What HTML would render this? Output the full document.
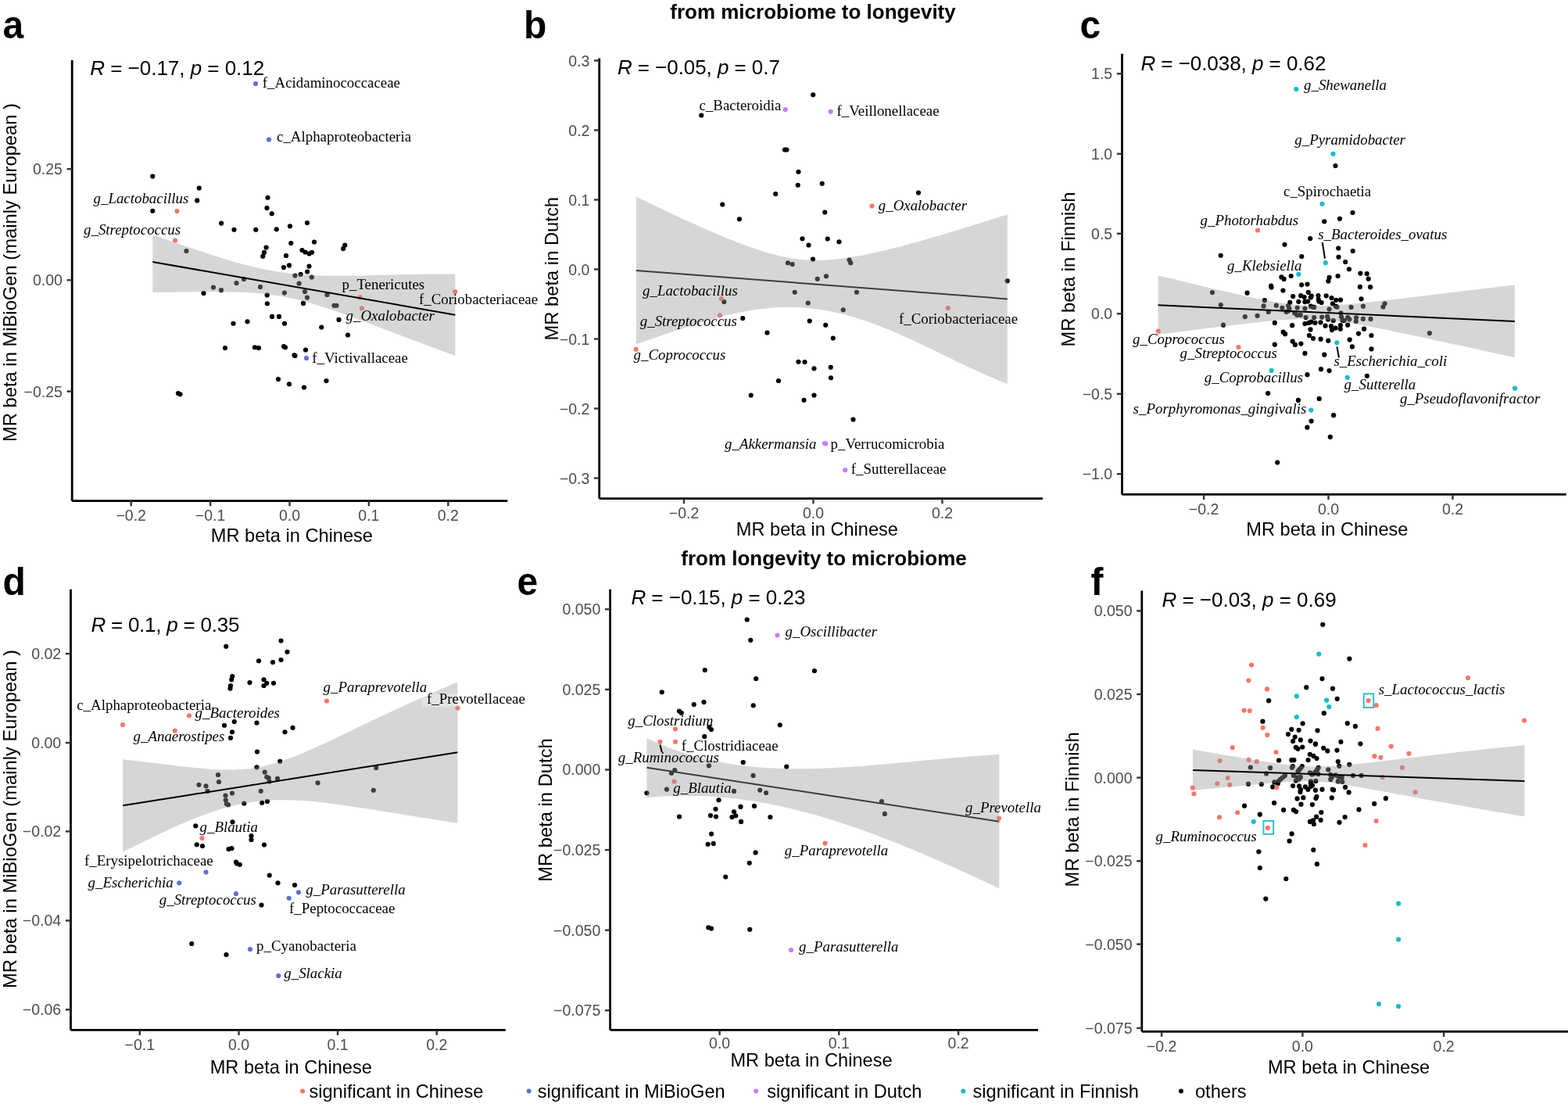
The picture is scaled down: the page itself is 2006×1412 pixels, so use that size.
<!DOCTYPE html>
<html><head><meta charset="utf-8"><title>MR beta scatter plots</title>
<style>
html,body{margin:0;padding:0;background:#fff;}
body{width:2006px;height:1412px;overflow:hidden;}
svg{display:block;}
.tk{font-family:"Liberation Sans",Arial,sans-serif;font-size:19.5px;fill:#4D4D4D;}
.at{font-family:"Liberation Sans",Arial,sans-serif;font-size:23.6px;fill:#000;}
.rt{font-family:"Liberation Sans",Arial,sans-serif;font-size:26px;fill:#000;}
.lb{font-family:"Liberation Serif","Times New Roman",serif;font-size:18.9px;fill:#000;}
.lbi{font-family:"Liberation Serif","Times New Roman",serif;font-size:18.9px;font-style:italic;fill:#000;}
.pl{font-family:"Liberation Sans",Arial,sans-serif;font-size:49.5px;font-weight:bold;fill:#000;}
.tt{font-family:"Liberation Sans",Arial,sans-serif;font-size:26px;font-weight:bold;fill:#000;}
.lg{font-family:"Liberation Sans",Arial,sans-serif;font-size:23.6px;fill:#000;}
</style></head>
<body><svg width="2006" height="1412" viewBox="0 0 2006 1412">
<rect width="2006" height="1412" fill="#fff"/>
<g id="panel-a">
<circle cx="195.25" cy="225.5" r="3.1" fill="#000000"/>
<circle cx="254.75" cy="240.5" r="3.1" fill="#000000"/>
<circle cx="252.25" cy="256.4" r="3.1" fill="#000000"/>
<circle cx="195.25" cy="269.75" r="3.1" fill="#000000"/>
<circle cx="342.5" cy="252.75" r="3.1" fill="#000000"/>
<circle cx="341.5" cy="266.1" r="3.1" fill="#000000"/>
<circle cx="347.75" cy="273.25" r="3.1" fill="#000000"/>
<circle cx="283.1" cy="285.6" r="3.1" fill="#000000"/>
<circle cx="299.5" cy="293.75" r="3.1" fill="#000000"/>
<circle cx="327.25" cy="293.75" r="3.1" fill="#000000"/>
<circle cx="353.75" cy="293.25" r="3.1" fill="#000000"/>
<circle cx="371" cy="289.25" r="3.1" fill="#000000"/>
<circle cx="393" cy="285.1" r="3.1" fill="#000000"/>
<circle cx="340.6" cy="316.5" r="3.1" fill="#000000"/>
<circle cx="338" cy="322.9" r="3.1" fill="#000000"/>
<circle cx="336.25" cy="327.75" r="3.1" fill="#000000"/>
<circle cx="372.25" cy="311" r="3.1" fill="#000000"/>
<circle cx="402" cy="309.5" r="3.1" fill="#000000"/>
<circle cx="441.25" cy="313.6" r="3.1" fill="#000000"/>
<circle cx="439.1" cy="318.1" r="3.1" fill="#000000"/>
<circle cx="366" cy="327" r="3.1" fill="#000000"/>
<circle cx="386.5" cy="320" r="3.1" fill="#000000"/>
<circle cx="390.5" cy="322.5" r="3.1" fill="#000000"/>
<circle cx="395.6" cy="324.5" r="3.1" fill="#000000"/>
<circle cx="399" cy="322.75" r="3.1" fill="#000000"/>
<circle cx="363" cy="342.1" r="3.1" fill="#000000"/>
<circle cx="370" cy="339.4" r="3.1" fill="#000000"/>
<circle cx="395.5" cy="340.6" r="3.1" fill="#000000"/>
<circle cx="393.1" cy="347.5" r="3.1" fill="#000000"/>
<circle cx="260.5" cy="375" r="3.1" fill="#000000"/>
<circle cx="341.75" cy="377.4" r="3.1" fill="#000000"/>
<circle cx="341.9" cy="388.25" r="3.1" fill="#000000"/>
<circle cx="388" cy="387.9" r="3.1" fill="#000000"/>
<circle cx="348" cy="404.9" r="3.1" fill="#000000"/>
<circle cx="357" cy="404.9" r="3.1" fill="#000000"/>
<circle cx="433.5" cy="408.9" r="3.1" fill="#000000"/>
<circle cx="298.5" cy="413.75" r="3.1" fill="#000000"/>
<circle cx="316.5" cy="411.25" r="3.1" fill="#000000"/>
<circle cx="364" cy="413.75" r="3.1" fill="#000000"/>
<circle cx="411.25" cy="418.5" r="3.1" fill="#000000"/>
<circle cx="445" cy="428.5" r="3.1" fill="#000000"/>
<circle cx="288" cy="445" r="3.1" fill="#000000"/>
<circle cx="326" cy="444.25" r="3.1" fill="#000000"/>
<circle cx="331" cy="445" r="3.1" fill="#000000"/>
<circle cx="363" cy="443" r="3.1" fill="#000000"/>
<circle cx="365" cy="444.25" r="3.1" fill="#000000"/>
<circle cx="391" cy="447.5" r="3.1" fill="#000000"/>
<circle cx="376.5" cy="454.25" r="3.1" fill="#000000"/>
<circle cx="377.5" cy="455" r="3.1" fill="#000000"/>
<circle cx="356" cy="485" r="3.1" fill="#000000"/>
<circle cx="370" cy="491.25" r="3.1" fill="#000000"/>
<circle cx="389" cy="495.5" r="3.1" fill="#000000"/>
<circle cx="417.5" cy="487" r="3.1" fill="#000000"/>
<circle cx="228" cy="503" r="3.1" fill="#000000"/>
<circle cx="230.5" cy="504.25" r="3.1" fill="#000000"/>
<circle cx="238.4" cy="321" r="3.1" fill="#000000"/>
<circle cx="377.5" cy="352.5" r="3.1" fill="#000000"/>
<circle cx="384.6" cy="350.9" r="3.1" fill="#000000"/>
<circle cx="398.75" cy="354.5" r="3.1" fill="#000000"/>
<circle cx="312" cy="357" r="3.1" fill="#000000"/>
<circle cx="302.5" cy="362" r="3.1" fill="#000000"/>
<circle cx="273" cy="367.5" r="3.1" fill="#000000"/>
<circle cx="283" cy="371.1" r="3.1" fill="#000000"/>
<circle cx="333" cy="367" r="3.1" fill="#000000"/>
<circle cx="382.6" cy="362.5" r="3.1" fill="#000000"/>
<circle cx="390" cy="373" r="3.1" fill="#000000"/>
<circle cx="363.9" cy="374.5" r="3.1" fill="#000000"/>
<circle cx="393" cy="380.6" r="3.1" fill="#000000"/>
<circle cx="418.5" cy="377" r="3.1" fill="#000000"/>
<circle cx="427.5" cy="390.75" r="3.1" fill="#000000"/>
<circle cx="430.5" cy="390.75" r="3.1" fill="#000000"/>
<circle cx="226.5" cy="270" r="3.1" fill="#F8766D"/>
<circle cx="224.2" cy="307.6" r="3.1" fill="#F8766D"/>
<circle cx="460.6" cy="380.3" r="3.1" fill="#F8766D"/>
<circle cx="582.25" cy="373" r="3.1" fill="#F8766D"/>
<circle cx="462.9" cy="394.25" r="3.1" fill="#F8766D"/>
<circle cx="327" cy="107" r="3.1" fill="#5E71D1"/>
<circle cx="344" cy="178.5" r="3.1" fill="#5E71D1"/>
<circle cx="392" cy="458" r="3.1" fill="#5E71D1"/>
<path d="M195.30,300.38 L199.17,301.69 L203.04,303.02 L206.91,304.34 L210.78,305.67 L214.65,306.99 L218.52,308.32 L222.39,309.65 L226.26,310.98 L230.13,312.31 L234.01,313.64 L237.88,314.97 L241.75,316.29 L245.62,317.60 L249.49,318.92 L253.36,320.22 L257.23,321.52 L261.10,322.81 L264.97,324.09 L268.84,325.35 L272.71,326.61 L276.58,327.85 L280.45,329.07 L284.32,330.28 L288.19,331.47 L292.06,332.64 L295.93,333.79 L299.80,334.91 L303.67,336.01 L307.54,337.08 L311.42,338.13 L315.29,339.14 L319.16,340.12 L323.03,341.07 L326.90,341.99 L330.77,342.87 L334.64,343.71 L338.51,344.51 L342.38,345.28 L346.25,346.01 L350.12,346.69 L353.99,347.34 L357.86,347.94 L361.73,348.51 L365.60,349.03 L369.47,349.52 L373.34,349.96 L377.21,350.37 L381.08,350.74 L384.95,351.07 L388.83,351.37 L392.70,351.63 L396.57,351.87 L400.44,352.07 L404.31,352.24 L408.18,352.38 L412.05,352.50 L415.92,352.60 L419.79,352.67 L423.66,352.72 L427.53,352.75 L431.40,352.76 L435.27,352.76 L439.14,352.74 L443.01,352.71 L446.88,352.67 L450.75,352.62 L454.62,352.55 L458.49,352.48 L462.36,352.40 L466.24,352.32 L470.11,352.23 L473.98,352.14 L477.85,352.04 L481.72,351.94 L485.59,351.84 L489.46,351.74 L493.33,351.64 L497.20,351.54 L501.07,351.44 L504.94,351.35 L508.81,351.26 L512.68,351.17 L516.55,351.08 L520.42,351.00 L524.29,350.92 L528.16,350.85 L532.03,350.79 L535.90,350.73 L539.77,350.67 L543.64,350.63 L547.52,350.59 L551.39,350.56 L555.26,350.53 L559.13,350.52 L563.00,350.51 L566.87,350.51 L570.74,350.52 L574.61,350.54 L578.48,350.57 L582.35,350.61 L582.35,454.99 L578.48,453.58 L574.61,452.18 L570.74,450.76 L566.87,449.35 L563.00,447.92 L559.13,446.49 L555.26,445.06 L551.39,443.62 L547.52,442.18 L543.64,440.73 L539.77,439.28 L535.90,437.83 L532.03,436.37 L528.16,434.91 L524.29,433.45 L520.42,431.98 L516.55,430.51 L512.68,429.04 L508.81,427.57 L504.94,426.09 L501.07,424.62 L497.20,423.14 L493.33,421.66 L489.46,420.19 L485.59,418.71 L481.72,417.24 L477.85,415.77 L473.98,414.31 L470.11,412.84 L466.24,411.38 L462.36,409.93 L458.49,408.49 L454.62,407.05 L450.75,405.62 L446.88,404.20 L443.01,402.80 L439.14,401.40 L435.27,400.02 L431.40,398.66 L427.53,397.31 L423.66,395.99 L419.79,394.69 L415.92,393.41 L412.05,392.15 L408.18,390.93 L404.31,389.73 L400.44,388.57 L396.57,387.45 L392.70,386.36 L388.83,385.31 L384.95,384.31 L381.08,383.34 L377.21,382.43 L373.34,381.56 L369.47,380.74 L365.60,379.97 L361.73,379.25 L357.86,378.58 L353.99,377.95 L350.12,377.38 L346.25,376.85 L342.38,376.37 L338.51,375.94 L334.64,375.54 L330.77,375.19 L326.90,374.87 L323.03,374.60 L319.16,374.35 L315.29,374.14 L311.42,373.95 L307.54,373.79 L303.67,373.66 L299.80,373.55 L295.93,373.45 L292.06,373.38 L288.19,373.32 L284.32,373.28 L280.45,373.25 L276.58,373.24 L272.71,373.23 L268.84,373.23 L264.97,373.24 L261.10,373.26 L257.23,373.29 L253.36,373.32 L249.49,373.35 L245.62,373.38 L241.75,373.42 L237.88,373.46 L234.01,373.51 L230.13,373.55 L226.26,373.59 L222.39,373.64 L218.52,373.68 L214.65,373.72 L210.78,373.76 L206.91,373.79 L203.04,373.83 L199.17,373.86 L195.30,373.89 Z" fill="#999999" fill-opacity="0.4"/>
<line x1="195.3" y1="335.0" x2="582.35" y2="402.7" stroke="#000" stroke-width="2"/>
<line x1="92.2" y1="77" x2="92.2" y2="640.7" stroke="#000" stroke-width="2.8"/>
<line x1="92.2" y1="640.7" x2="649.3" y2="640.7" stroke="#000" stroke-width="2.8"/>
<line x1="85.60000000000001" y1="216.1" x2="92.2" y2="216.1" stroke="#333333" stroke-width="2.4"/>
<text x="79.9" y="223.1" class="tk" text-anchor="end">0.25</text>
<line x1="85.60000000000001" y1="358.3" x2="92.2" y2="358.3" stroke="#333333" stroke-width="2.4"/>
<text x="79.9" y="365.3" class="tk" text-anchor="end">0.00</text>
<line x1="85.60000000000001" y1="500.6" x2="92.2" y2="500.6" stroke="#333333" stroke-width="2.4"/>
<text x="79.9" y="507.6" class="tk" text-anchor="end">−0.25</text>
<line x1="167.7" y1="640.7" x2="167.7" y2="647.3000000000001" stroke="#333333" stroke-width="2.4"/>
<text x="167.7" y="665.5" class="tk" text-anchor="middle">−0.2</text>
<line x1="269.1" y1="640.7" x2="269.1" y2="647.3000000000001" stroke="#333333" stroke-width="2.4"/>
<text x="269.1" y="665.5" class="tk" text-anchor="middle">−0.1</text>
<line x1="370.5" y1="640.7" x2="370.5" y2="647.3000000000001" stroke="#333333" stroke-width="2.4"/>
<text x="370.5" y="665.5" class="tk" text-anchor="middle">0.0</text>
<line x1="471.9" y1="640.7" x2="471.9" y2="647.3000000000001" stroke="#333333" stroke-width="2.4"/>
<text x="471.9" y="665.5" class="tk" text-anchor="middle">0.1</text>
<line x1="573.3" y1="640.7" x2="573.3" y2="647.3000000000001" stroke="#333333" stroke-width="2.4"/>
<text x="573.3" y="665.5" class="tk" text-anchor="middle">0.2</text>
<text x="373.4" y="693" class="at" text-anchor="middle">MR beta in Chinese</text>
<text transform="translate(20.7,348.5) rotate(-90)" x="0" y="0" class="at" style="font-size:23.75px" text-anchor="middle">MR beta in MiBioGen (mainly European )</text>
<text x="115.30000000000001" y="95.8" class="rt" textLength="222.90" lengthAdjust="spacing"><tspan font-style="italic">R</tspan> = −0.17, <tspan font-style="italic">p</tspan> = 0.12</text>
<text x="335.8" y="111.5" class="lb">f_Acidaminococcaceae</text>
<text x="354" y="181" class="lb">c_Alphaproteobacteria</text>
<text x="119.5" y="260" class="lbi">g_Lactobacillus</text>
<text x="107" y="300" class="lbi">g_Streptococcus</text>
<text x="437.5" y="370" class="lb">p_Tenericutes</text>
<text x="536" y="388.75" class="lb">f_Coriobacteriaceae</text>
<text x="442.5" y="410" class="lbi">g_Oxalobacter</text>
<text x="399.25" y="463.75" class="lb">f_Victivallaceae</text>
</g>
<g id="panel-b">
<circle cx="1040.25" cy="121.25" r="3.1" fill="#000000"/>
<circle cx="897.25" cy="147.5" r="3.1" fill="#000000"/>
<circle cx="1004" cy="191.5" r="3.1" fill="#000000"/>
<circle cx="1006.5" cy="191.5" r="3.1" fill="#000000"/>
<circle cx="1021.5" cy="219.75" r="3.1" fill="#000000"/>
<circle cx="1020.75" cy="236.75" r="3.1" fill="#000000"/>
<circle cx="1051.75" cy="234.75" r="3.1" fill="#000000"/>
<circle cx="992.25" cy="248" r="3.1" fill="#000000"/>
<circle cx="1175" cy="246.5" r="3.1" fill="#000000"/>
<circle cx="924.25" cy="261.5" r="3.1" fill="#000000"/>
<circle cx="946" cy="280.25" r="3.1" fill="#000000"/>
<circle cx="1055.25" cy="271.5" r="3.1" fill="#000000"/>
<circle cx="1026.5" cy="305.25" r="3.1" fill="#000000"/>
<circle cx="1034.5" cy="313.5" r="3.1" fill="#000000"/>
<circle cx="1058.75" cy="305.5" r="3.1" fill="#000000"/>
<circle cx="1073.5" cy="309.25" r="3.1" fill="#000000"/>
<circle cx="1040" cy="331.5" r="3.1" fill="#000000"/>
<circle cx="1008" cy="336.25" r="3.1" fill="#000000"/>
<circle cx="1013.75" cy="338" r="3.1" fill="#000000"/>
<circle cx="1086.5" cy="332.5" r="3.1" fill="#000000"/>
<circle cx="1088.25" cy="336.25" r="3.1" fill="#000000"/>
<circle cx="1045.75" cy="356.75" r="3.1" fill="#000000"/>
<circle cx="1057" cy="353.25" r="3.1" fill="#000000"/>
<circle cx="1288.75" cy="359.25" r="3.1" fill="#000000"/>
<circle cx="1016.75" cy="373.75" r="3.1" fill="#000000"/>
<circle cx="1096" cy="373.75" r="3.1" fill="#000000"/>
<circle cx="926.25" cy="386" r="3.1" fill="#000000"/>
<circle cx="1033.75" cy="387.5" r="3.1" fill="#000000"/>
<circle cx="1078.75" cy="396.25" r="3.1" fill="#000000"/>
<circle cx="950.25" cy="407" r="3.1" fill="#000000"/>
<circle cx="1035.75" cy="410.5" r="3.1" fill="#000000"/>
<circle cx="1056.25" cy="415.75" r="3.1" fill="#000000"/>
<circle cx="981.5" cy="425.5" r="3.1" fill="#000000"/>
<circle cx="1065.75" cy="432.5" r="3.1" fill="#000000"/>
<circle cx="1021.5" cy="462.75" r="3.1" fill="#000000"/>
<circle cx="1029.5" cy="463" r="3.1" fill="#000000"/>
<circle cx="1041.5" cy="471.25" r="3.1" fill="#000000"/>
<circle cx="1062.75" cy="469.75" r="3.1" fill="#000000"/>
<circle cx="1063" cy="483.25" r="3.1" fill="#000000"/>
<circle cx="996" cy="487" r="3.1" fill="#000000"/>
<circle cx="960.75" cy="505.5" r="3.1" fill="#000000"/>
<circle cx="1041.5" cy="505.5" r="3.1" fill="#000000"/>
<circle cx="1028.5" cy="511.75" r="3.1" fill="#000000"/>
<circle cx="1091.5" cy="536.5" r="3.1" fill="#000000"/>
<circle cx="1115.5" cy="263.5" r="3.1" fill="#F8766D"/>
<circle cx="922.75" cy="382" r="3.1" fill="#F8766D"/>
<circle cx="1212.75" cy="394" r="3.1" fill="#F8766D"/>
<circle cx="921" cy="403.25" r="3.1" fill="#F8766D"/>
<circle cx="813.75" cy="446.75" r="3.1" fill="#F8766D"/>
<circle cx="1004.75" cy="140" r="3.1" fill="#C77CFF"/>
<circle cx="1062.75" cy="142.75" r="3.1" fill="#C77CFF"/>
<circle cx="1055" cy="567" r="3.1" fill="#C77CFF"/>
<circle cx="1056.25" cy="567.5" r="3.1" fill="#C77CFF"/>
<circle cx="1081.25" cy="601.25" r="3.1" fill="#C77CFF"/>
<line x1="813.9" y1="345.9" x2="1288.8" y2="382.4" stroke="#000" stroke-width="2"/>
<path d="M813.90,251.60 L818.65,253.91 L823.40,256.22 L828.15,258.51 L832.90,260.80 L837.64,263.07 L842.39,265.34 L847.14,267.59 L851.89,269.84 L856.64,272.07 L861.39,274.30 L866.14,276.51 L870.89,278.71 L875.64,280.89 L880.39,283.06 L885.13,285.22 L889.88,287.35 L894.63,289.48 L899.38,291.58 L904.13,293.66 L908.88,295.73 L913.63,297.77 L918.38,299.79 L923.13,301.78 L927.88,303.74 L932.62,305.67 L937.37,307.57 L942.12,309.44 L946.87,311.26 L951.62,313.05 L956.37,314.79 L961.12,316.48 L965.87,318.11 L970.62,319.69 L975.37,321.21 L980.12,322.65 L984.86,324.02 L989.61,325.32 L994.36,326.52 L999.11,327.64 L1003.86,328.66 L1008.61,329.57 L1013.36,330.38 L1018.11,331.08 L1022.86,331.67 L1027.61,332.14 L1032.35,332.50 L1037.10,332.74 L1041.85,332.88 L1046.60,332.90 L1051.35,332.81 L1056.10,332.62 L1060.85,332.34 L1065.60,331.97 L1070.35,331.51 L1075.10,330.97 L1079.84,330.36 L1084.59,329.68 L1089.34,328.94 L1094.09,328.14 L1098.84,327.29 L1103.59,326.38 L1108.34,325.44 L1113.09,324.45 L1117.84,323.42 L1122.59,322.36 L1127.33,321.26 L1132.08,320.14 L1136.83,318.99 L1141.58,317.81 L1146.33,316.61 L1151.08,315.38 L1155.83,314.14 L1160.58,312.88 L1165.33,311.59 L1170.07,310.29 L1174.82,308.98 L1179.57,307.65 L1184.32,306.30 L1189.07,304.95 L1193.82,303.58 L1198.57,302.19 L1203.32,300.80 L1208.07,299.39 L1212.82,297.98 L1217.57,296.55 L1222.31,295.12 L1227.06,293.67 L1231.81,292.22 L1236.56,290.76 L1241.31,289.29 L1246.06,287.81 L1250.81,286.33 L1255.56,284.83 L1260.31,283.33 L1265.05,281.83 L1269.80,280.31 L1274.55,278.79 L1279.30,277.27 L1284.05,275.74 L1288.80,274.20 L1288.80,491.00 L1284.05,489.13 L1279.30,487.22 L1274.55,485.25 L1269.80,483.25 L1265.05,481.20 L1260.31,479.11 L1255.56,476.99 L1250.81,474.83 L1246.06,472.65 L1241.31,470.44 L1236.56,468.20 L1231.81,465.95 L1227.06,463.68 L1222.31,461.39 L1217.57,459.09 L1212.82,456.79 L1208.07,454.48 L1203.32,452.18 L1198.57,449.87 L1193.82,447.57 L1189.07,445.28 L1184.32,443.00 L1179.57,440.74 L1174.82,438.50 L1170.07,436.28 L1165.33,434.08 L1160.58,431.91 L1155.83,429.78 L1151.08,427.68 L1146.33,425.61 L1141.58,423.59 L1136.83,421.61 L1132.08,419.68 L1127.33,417.79 L1122.59,415.96 L1117.84,414.19 L1113.09,412.47 L1108.34,410.81 L1103.59,409.21 L1098.84,407.68 L1094.09,406.22 L1089.34,404.82 L1084.59,403.49 L1079.84,402.24 L1075.10,401.06 L1070.35,399.96 L1065.60,398.93 L1060.85,397.98 L1056.10,397.12 L1051.35,396.33 L1046.60,395.62 L1041.85,395.00 L1037.10,394.46 L1032.35,394.00 L1027.61,393.62 L1022.86,393.33 L1018.11,393.12 L1013.36,393.00 L1008.61,392.95 L1003.86,392.99 L999.11,393.11 L994.36,393.31 L989.61,393.59 L984.86,393.95 L980.12,394.38 L975.37,394.89 L970.62,395.48 L965.87,396.13 L961.12,396.86 L956.37,397.65 L951.62,398.51 L946.87,399.44 L942.12,400.43 L937.37,401.47 L932.62,402.57 L927.88,403.73 L923.13,404.94 L918.38,406.20 L913.63,407.50 L908.88,408.84 L904.13,410.23 L899.38,411.65 L894.63,413.11 L889.88,414.60 L885.13,416.12 L880.39,417.66 L875.64,419.22 L870.89,420.80 L866.14,422.39 L861.39,424.00 L856.64,425.61 L851.89,427.23 L847.14,428.86 L842.39,430.48 L837.64,432.09 L832.90,433.70 L828.15,435.30 L823.40,436.88 L818.65,438.44 L813.90,439.99 Z" fill="#999999" fill-opacity="0.4"/>
<line x1="766.7" y1="74.5" x2="766.7" y2="637.6" stroke="#000" stroke-width="2.8"/>
<line x1="766.7" y1="637.6" x2="1334" y2="637.6" stroke="#000" stroke-width="2.8"/>
<line x1="760.1" y1="77.5" x2="766.7" y2="77.5" stroke="#333333" stroke-width="2.4"/>
<text x="754.4000000000001" y="84.5" class="tk" text-anchor="end">0.3</text>
<line x1="760.1" y1="166.5" x2="766.7" y2="166.5" stroke="#333333" stroke-width="2.4"/>
<text x="754.4000000000001" y="173.5" class="tk" text-anchor="end">0.2</text>
<line x1="760.1" y1="255.5" x2="766.7" y2="255.5" stroke="#333333" stroke-width="2.4"/>
<text x="754.4000000000001" y="262.5" class="tk" text-anchor="end">0.1</text>
<line x1="760.1" y1="344.5" x2="766.7" y2="344.5" stroke="#333333" stroke-width="2.4"/>
<text x="754.4000000000001" y="351.5" class="tk" text-anchor="end">0.0</text>
<line x1="760.1" y1="433.5" x2="766.7" y2="433.5" stroke="#333333" stroke-width="2.4"/>
<text x="754.4000000000001" y="440.5" class="tk" text-anchor="end">−0.1</text>
<line x1="760.1" y1="522.5" x2="766.7" y2="522.5" stroke="#333333" stroke-width="2.4"/>
<text x="754.4000000000001" y="529.5" class="tk" text-anchor="end">−0.2</text>
<line x1="760.1" y1="611.5" x2="766.7" y2="611.5" stroke="#333333" stroke-width="2.4"/>
<text x="754.4000000000001" y="618.5" class="tk" text-anchor="end">−0.3</text>
<line x1="875" y1="637.6" x2="875" y2="644.2" stroke="#333333" stroke-width="2.4"/>
<text x="875" y="663.2" class="tk" text-anchor="middle">−0.2</text>
<line x1="1040.5" y1="637.6" x2="1040.5" y2="644.2" stroke="#333333" stroke-width="2.4"/>
<text x="1040.5" y="663.2" class="tk" text-anchor="middle">0.0</text>
<line x1="1205.5" y1="637.6" x2="1205.5" y2="644.2" stroke="#333333" stroke-width="2.4"/>
<text x="1205.5" y="663.2" class="tk" text-anchor="middle">0.2</text>
<text x="1045.4" y="684.5" class="at" text-anchor="middle">MR beta in Chinese</text>
<text transform="translate(713.5,343.75) rotate(-90)" x="0" y="0" class="at" style="font-size:23.75px" text-anchor="middle">MR beta in Dutch</text>
<text x="789.9" y="94.5" class="rt" textLength="208.00" lengthAdjust="spacing"><tspan font-style="italic">R</tspan> = −0.05, <tspan font-style="italic">p</tspan> = 0.7</text>
<text x="894.5" y="140.75" class="lb">c_Bacteroidia</text>
<text x="1070.5" y="147.5" class="lb">f_Veillonellaceae</text>
<text x="1123.75" y="268.75" class="lbi">g_Oxalobacter</text>
<text x="822" y="378" class="lbi">g_Lactobacillus</text>
<text x="818.75" y="417" class="lbi">g_Streptococcus</text>
<text x="810.5" y="460" class="lbi">g_Coprococcus</text>
<text x="1150" y="413.75" class="lb">f_Coriobacteriaceae</text>
<text x="927" y="573.75" class="lbi">g_Akkermansia</text>
<text x="1062.5" y="573.75" class="lb">p_Verrucomicrobia</text>
<text x="1088.75" y="605.5" class="lb">f_Sutterellaceae</text>
</g>
<g id="panel-c">
<circle cx="1708.5" cy="212" r="3.1" fill="#000000"/>
<circle cx="1730.5" cy="272" r="3.1" fill="#000000"/>
<circle cx="1714" cy="279.75" r="3.1" fill="#000000"/>
<circle cx="1694.25" cy="283.25" r="3.1" fill="#000000"/>
<circle cx="1676.25" cy="305" r="3.1" fill="#000000"/>
<circle cx="1643.5" cy="312.75" r="3.1" fill="#000000"/>
<circle cx="1561.75" cy="326.75" r="3.1" fill="#000000"/>
<circle cx="1665.25" cy="328" r="3.1" fill="#000000"/>
<circle cx="1712.25" cy="317.5" r="3.1" fill="#000000"/>
<circle cx="1730.75" cy="321" r="3.1" fill="#000000"/>
<circle cx="1712.5" cy="328.75" r="3.1" fill="#000000"/>
<circle cx="1721.25" cy="335" r="3.1" fill="#000000"/>
<circle cx="1726" cy="344.25" r="3.1" fill="#000000"/>
<circle cx="1639.4" cy="354.4" r="3.1" fill="#000000"/>
<circle cx="1642.6" cy="356.9" r="3.1" fill="#000000"/>
<circle cx="1651.7" cy="353" r="3.1" fill="#000000"/>
<circle cx="1711.6" cy="353" r="3.1" fill="#000000"/>
<circle cx="1700.6" cy="354.9" r="3.1" fill="#000000"/>
<circle cx="1699.4" cy="359.6" r="3.1" fill="#000000"/>
<circle cx="1740.4" cy="349.6" r="3.1" fill="#000000"/>
<circle cx="1748.7" cy="350.1" r="3.1" fill="#000000"/>
<circle cx="1750.7" cy="356.7" r="3.1" fill="#000000"/>
<circle cx="1739.9" cy="366.9" r="3.1" fill="#000000"/>
<circle cx="1753.1" cy="367.2" r="3.1" fill="#000000"/>
<circle cx="1626.2" cy="365.5" r="3.1" fill="#000000"/>
<circle cx="1626.5" cy="367.4" r="3.1" fill="#000000"/>
<circle cx="1665.1" cy="364.3" r="3.1" fill="#000000"/>
<circle cx="1672.5" cy="363.5" r="3.1" fill="#000000"/>
<circle cx="1641.4" cy="371.5" r="3.1" fill="#000000"/>
<circle cx="1551" cy="374.1" r="3.1" fill="#000000"/>
<circle cx="1595.6" cy="374.7" r="3.1" fill="#000000"/>
<circle cx="1654.2" cy="379.1" r="3.1" fill="#000000"/>
<circle cx="1673.8" cy="373.9" r="3.1" fill="#000000"/>
<circle cx="1677.7" cy="378.5" r="3.1" fill="#000000"/>
<circle cx="1676.9" cy="380.5" r="3.1" fill="#000000"/>
<circle cx="1664.2" cy="378.2" r="3.1" fill="#000000"/>
<circle cx="1668.6" cy="380" r="3.1" fill="#000000"/>
<circle cx="1686.5" cy="378" r="3.1" fill="#000000"/>
<circle cx="1696.7" cy="378.3" r="3.1" fill="#000000"/>
<circle cx="1703.5" cy="381.1" r="3.1" fill="#000000"/>
<circle cx="1709.3" cy="383.8" r="3.1" fill="#000000"/>
<circle cx="1715" cy="383.6" r="3.1" fill="#000000"/>
<circle cx="1661.3" cy="385.8" r="3.1" fill="#000000"/>
<circle cx="1669.4" cy="386.1" r="3.1" fill="#000000"/>
<circle cx="1673.1" cy="385.5" r="3.1" fill="#000000"/>
<circle cx="1686.8" cy="383" r="3.1" fill="#000000"/>
<circle cx="1687.5" cy="385.5" r="3.1" fill="#000000"/>
<circle cx="1690.6" cy="387" r="3.1" fill="#000000"/>
<circle cx="1650.3" cy="386.8" r="3.1" fill="#000000"/>
<circle cx="1741.6" cy="382.3" r="3.1" fill="#000000"/>
<circle cx="1617.9" cy="384.2" r="3.1" fill="#000000"/>
<circle cx="1561.8" cy="390.1" r="3.1" fill="#000000"/>
<circle cx="1616.6" cy="391.4" r="3.1" fill="#000000"/>
<circle cx="1632.8" cy="390.7" r="3.1" fill="#000000"/>
<circle cx="1640.4" cy="393.8" r="3.1" fill="#000000"/>
<circle cx="1648.2" cy="391.1" r="3.1" fill="#000000"/>
<circle cx="1649.5" cy="394.8" r="3.1" fill="#000000"/>
<circle cx="1659.7" cy="393.6" r="3.1" fill="#000000"/>
<circle cx="1669.4" cy="394.6" r="3.1" fill="#000000"/>
<circle cx="1676.9" cy="391.7" r="3.1" fill="#000000"/>
<circle cx="1680" cy="392.9" r="3.1" fill="#000000"/>
<circle cx="1704.9" cy="388.3" r="3.1" fill="#000000"/>
<circle cx="1708.7" cy="391.7" r="3.1" fill="#000000"/>
<circle cx="1710.5" cy="392.7" r="3.1" fill="#000000"/>
<circle cx="1700.6" cy="395.4" r="3.1" fill="#000000"/>
<circle cx="1728.6" cy="392.9" r="3.1" fill="#000000"/>
<circle cx="1743.9" cy="391.7" r="3.1" fill="#000000"/>
<circle cx="1771.6" cy="388.3" r="3.1" fill="#000000"/>
<circle cx="1769.5" cy="392.5" r="3.1" fill="#000000"/>
<circle cx="1681.2" cy="392.9" r="3.1" fill="#000000"/>
<circle cx="1622.8" cy="398.9" r="3.1" fill="#000000"/>
<circle cx="1645.7" cy="398.9" r="3.1" fill="#000000"/>
<circle cx="1648.8" cy="397.3" r="3.1" fill="#000000"/>
<circle cx="1656.3" cy="400.4" r="3.1" fill="#000000"/>
<circle cx="1659.4" cy="402.9" r="3.1" fill="#000000"/>
<circle cx="1663.8" cy="402.9" r="3.1" fill="#000000"/>
<circle cx="1592.8" cy="405.1" r="3.1" fill="#000000"/>
<circle cx="1608.6" cy="403.8" r="3.1" fill="#000000"/>
<circle cx="1670.6" cy="406" r="3.1" fill="#000000"/>
<circle cx="1681.2" cy="406.1" r="3.1" fill="#000000"/>
<circle cx="1691.2" cy="405.6" r="3.1" fill="#000000"/>
<circle cx="1698.1" cy="404.8" r="3.1" fill="#000000"/>
<circle cx="1699.1" cy="408.5" r="3.1" fill="#000000"/>
<circle cx="1705.8" cy="410" r="3.1" fill="#000000"/>
<circle cx="1715.5" cy="400.4" r="3.1" fill="#000000"/>
<circle cx="1716.1" cy="405.4" r="3.1" fill="#000000"/>
<circle cx="1717.4" cy="409.8" r="3.1" fill="#000000"/>
<circle cx="1719.9" cy="409.8" r="3.1" fill="#000000"/>
<circle cx="1724.2" cy="406" r="3.1" fill="#000000"/>
<circle cx="1726.4" cy="408.3" r="3.1" fill="#000000"/>
<circle cx="1735.1" cy="406.3" r="3.1" fill="#000000"/>
<circle cx="1734.8" cy="411" r="3.1" fill="#000000"/>
<circle cx="1743.9" cy="407.9" r="3.1" fill="#000000"/>
<circle cx="1753.5" cy="407.9" r="3.1" fill="#000000"/>
<circle cx="1630.8" cy="412.9" r="3.1" fill="#000000"/>
<circle cx="1669.4" cy="414.1" r="3.1" fill="#000000"/>
<circle cx="1674.4" cy="412.9" r="3.1" fill="#000000"/>
<circle cx="1677.5" cy="411.6" r="3.1" fill="#000000"/>
<circle cx="1682.5" cy="412.9" r="3.1" fill="#000000"/>
<circle cx="1689.5" cy="412.3" r="3.1" fill="#000000"/>
<circle cx="1653.2" cy="416.2" r="3.1" fill="#000000"/>
<circle cx="1695.6" cy="416.7" r="3.1" fill="#000000"/>
<circle cx="1565" cy="415.7" r="3.1" fill="#000000"/>
<circle cx="1703" cy="417.2" r="3.1" fill="#000000"/>
<circle cx="1704" cy="422.1" r="3.1" fill="#000000"/>
<circle cx="1708.6" cy="419.6" r="3.1" fill="#000000"/>
<circle cx="1714.9" cy="416" r="3.1" fill="#000000"/>
<circle cx="1714.8" cy="420.7" r="3.1" fill="#000000"/>
<circle cx="1724.2" cy="415.7" r="3.1" fill="#000000"/>
<circle cx="1745.1" cy="420.7" r="3.1" fill="#000000"/>
<circle cx="1738" cy="426.6" r="3.1" fill="#000000"/>
<circle cx="1754.4" cy="429.1" r="3.1" fill="#000000"/>
<circle cx="1828.9" cy="426.1" r="3.1" fill="#000000"/>
<circle cx="1676.5" cy="421.4" r="3.1" fill="#000000"/>
<circle cx="1641.7" cy="424.7" r="3.1" fill="#000000"/>
<circle cx="1644.1" cy="427.2" r="3.1" fill="#000000"/>
<circle cx="1675" cy="429.1" r="3.1" fill="#000000"/>
<circle cx="1680" cy="432.8" r="3.1" fill="#000000"/>
<circle cx="1689.6" cy="433.7" r="3.1" fill="#000000"/>
<circle cx="1699.3" cy="435.7" r="3.1" fill="#000000"/>
<circle cx="1726.7" cy="434.4" r="3.1" fill="#000000"/>
<circle cx="1729.9" cy="443.4" r="3.1" fill="#000000"/>
<circle cx="1754.5" cy="446.4" r="3.1" fill="#000000"/>
<circle cx="1653.6" cy="436.6" r="3.1" fill="#000000"/>
<circle cx="1656.9" cy="440.9" r="3.1" fill="#000000"/>
<circle cx="1664.4" cy="439.6" r="3.1" fill="#000000"/>
<circle cx="1630.8" cy="440.7" r="3.1" fill="#000000"/>
<circle cx="1669.4" cy="451.9" r="3.1" fill="#000000"/>
<circle cx="1694.3" cy="453.7" r="3.1" fill="#000000"/>
<circle cx="1690" cy="472.2" r="3.1" fill="#000000"/>
<circle cx="1700.6" cy="474.1" r="3.1" fill="#000000"/>
<circle cx="1672.5" cy="479.2" r="3.1" fill="#000000"/>
<circle cx="1748.9" cy="480.8" r="3.1" fill="#000000"/>
<circle cx="1622.1" cy="503" r="3.1" fill="#000000"/>
<circle cx="1660.9" cy="511.9" r="3.1" fill="#000000"/>
<circle cx="1687.7" cy="509.9" r="3.1" fill="#000000"/>
<circle cx="1706.1" cy="531.2" r="3.1" fill="#000000"/>
<circle cx="1677.6" cy="538.6" r="3.1" fill="#000000"/>
<circle cx="1672.4" cy="546.7" r="3.1" fill="#000000"/>
<circle cx="1701.8" cy="558.8" r="3.1" fill="#000000"/>
<circle cx="1634.2" cy="591.5" r="3.1" fill="#000000"/>
<circle cx="1609" cy="294.5" r="3.1" fill="#F8766D"/>
<circle cx="1481.8" cy="423.5" r="3.1" fill="#F8766D"/>
<circle cx="1584.5" cy="444.1" r="3.1" fill="#F8766D"/>
<circle cx="1658.25" cy="114" r="3.1" fill="#17BCCE"/>
<circle cx="1705.5" cy="196.75" r="3.1" fill="#17BCCE"/>
<circle cx="1691.5" cy="260.75" r="3.1" fill="#17BCCE"/>
<circle cx="1695.8" cy="336.2" r="3.1" fill="#17BCCE"/>
<circle cx="1661.3" cy="350.8" r="3.1" fill="#17BCCE"/>
<circle cx="1710.3" cy="438.3" r="3.1" fill="#17BCCE"/>
<circle cx="1626.6" cy="473.9" r="3.1" fill="#17BCCE"/>
<circle cx="1723.7" cy="482.8" r="3.1" fill="#17BCCE"/>
<circle cx="1938.1" cy="496.7" r="3.1" fill="#17BCCE"/>
<circle cx="1677.3" cy="524.5" r="3.1" fill="#17BCCE"/>
<path d="M1481.60,352.32 L1486.16,353.42 L1490.73,354.52 L1495.29,355.62 L1499.85,356.72 L1504.41,357.82 L1508.98,358.92 L1513.54,360.02 L1518.10,361.11 L1522.67,362.21 L1527.23,363.30 L1531.79,364.40 L1536.36,365.49 L1540.92,366.57 L1545.48,367.66 L1550.04,368.74 L1554.61,369.81 L1559.17,370.89 L1563.73,371.95 L1568.30,373.01 L1572.86,374.07 L1577.42,375.11 L1581.99,376.15 L1586.55,377.17 L1591.11,378.18 L1595.67,379.18 L1600.24,380.17 L1604.80,381.13 L1609.36,382.08 L1613.93,383.00 L1618.49,383.89 L1623.05,384.75 L1627.62,385.58 L1632.18,386.37 L1636.74,387.11 L1641.30,387.80 L1645.87,388.44 L1650.43,389.01 L1654.99,389.52 L1659.56,389.96 L1664.12,390.33 L1668.68,390.62 L1673.25,390.83 L1677.81,390.97 L1682.37,391.04 L1686.93,391.03 L1691.50,390.97 L1696.06,390.85 L1700.62,390.67 L1705.19,390.45 L1709.75,390.18 L1714.31,389.88 L1718.88,389.55 L1723.44,389.19 L1728.00,388.80 L1732.57,388.39 L1737.13,387.96 L1741.69,387.51 L1746.25,387.05 L1750.82,386.57 L1755.38,386.09 L1759.94,385.59 L1764.51,385.09 L1769.07,384.58 L1773.63,384.06 L1778.19,383.54 L1782.76,383.01 L1787.32,382.48 L1791.88,381.94 L1796.45,381.40 L1801.01,380.86 L1805.57,380.31 L1810.14,379.76 L1814.70,379.22 L1819.26,378.67 L1823.83,378.11 L1828.39,377.56 L1832.95,377.01 L1837.51,376.46 L1842.08,375.90 L1846.64,375.35 L1851.20,374.79 L1855.77,374.24 L1860.33,373.69 L1864.89,373.13 L1869.45,372.58 L1874.02,372.03 L1878.58,371.48 L1883.14,370.93 L1887.71,370.38 L1892.27,369.83 L1896.83,369.28 L1901.40,368.73 L1905.96,368.19 L1910.52,367.64 L1915.09,367.10 L1919.65,366.56 L1924.21,366.01 L1928.77,365.47 L1933.34,364.94 L1937.90,364.40 L1937.90,457.10 L1933.34,456.13 L1928.77,455.15 L1924.21,454.17 L1919.65,453.19 L1915.09,452.21 L1910.52,451.23 L1905.96,450.25 L1901.40,449.26 L1896.83,448.28 L1892.27,447.29 L1887.71,446.31 L1883.14,445.32 L1878.58,444.33 L1874.02,443.35 L1869.45,442.36 L1864.89,441.37 L1860.33,440.38 L1855.77,439.39 L1851.20,438.40 L1846.64,437.41 L1842.08,436.43 L1837.51,435.44 L1832.95,434.45 L1828.39,433.47 L1823.83,432.48 L1819.26,431.50 L1814.70,430.52 L1810.14,429.54 L1805.57,428.57 L1801.01,427.59 L1796.45,426.63 L1791.88,425.66 L1787.32,424.70 L1782.76,423.75 L1778.19,422.81 L1773.63,421.87 L1769.07,420.94 L1764.51,420.02 L1759.94,419.11 L1755.38,418.22 L1750.82,417.34 L1746.25,416.48 L1741.69,415.63 L1737.13,414.81 L1732.57,414.02 L1728.00,413.26 L1723.44,412.53 L1718.88,411.84 L1714.31,411.19 L1709.75,410.59 L1705.19,410.05 L1700.62,409.56 L1696.06,409.13 L1691.50,408.78 L1686.93,408.49 L1682.37,408.28 L1677.81,408.14 L1673.25,408.06 L1668.68,408.06 L1664.12,408.12 L1659.56,408.25 L1654.99,408.42 L1650.43,408.65 L1645.87,408.92 L1641.30,409.23 L1636.74,409.58 L1632.18,409.95 L1627.62,410.36 L1623.05,410.78 L1618.49,411.23 L1613.93,411.70 L1609.36,412.18 L1604.80,412.67 L1600.24,413.18 L1595.67,413.70 L1591.11,414.22 L1586.55,414.76 L1581.99,415.30 L1577.42,415.85 L1572.86,416.40 L1568.30,416.96 L1563.73,417.52 L1559.17,418.09 L1554.61,418.66 L1550.04,419.23 L1545.48,419.80 L1540.92,420.37 L1536.36,420.95 L1531.79,421.53 L1527.23,422.11 L1522.67,422.69 L1518.10,423.26 L1513.54,423.84 L1508.98,424.42 L1504.41,425.00 L1499.85,425.58 L1495.29,426.16 L1490.73,426.74 L1486.16,427.32 L1481.60,427.90 Z" fill="#999999" fill-opacity="0.4"/>
<line x1="1481.6" y1="390.3" x2="1937.9" y2="411.0" stroke="#000" stroke-width="2"/>
<line x1="1435.5" y1="68.75" x2="1435.5" y2="632.4" stroke="#000" stroke-width="2.8"/>
<line x1="1435.5" y1="632.4" x2="2003.7" y2="632.4" stroke="#000" stroke-width="2.8"/>
<line x1="1428.9" y1="94.25" x2="1435.5" y2="94.25" stroke="#333333" stroke-width="2.4"/>
<text x="1423.2" y="101.25" class="tk" text-anchor="end">1.5</text>
<line x1="1428.9" y1="196.75" x2="1435.5" y2="196.75" stroke="#333333" stroke-width="2.4"/>
<text x="1423.2" y="203.75" class="tk" text-anchor="end">1.0</text>
<line x1="1428.9" y1="298.75" x2="1435.5" y2="298.75" stroke="#333333" stroke-width="2.4"/>
<text x="1423.2" y="305.75" class="tk" text-anchor="end">0.5</text>
<line x1="1428.9" y1="401.2" x2="1435.5" y2="401.2" stroke="#333333" stroke-width="2.4"/>
<text x="1423.2" y="408.2" class="tk" text-anchor="end">0.0</text>
<line x1="1428.9" y1="503.8" x2="1435.5" y2="503.8" stroke="#333333" stroke-width="2.4"/>
<text x="1423.2" y="510.8" class="tk" text-anchor="end">−0.5</text>
<line x1="1428.9" y1="606.2" x2="1435.5" y2="606.2" stroke="#333333" stroke-width="2.4"/>
<text x="1423.2" y="613.2" class="tk" text-anchor="end">−1.0</text>
<line x1="1540.1" y1="632.4" x2="1540.1" y2="639.0" stroke="#333333" stroke-width="2.4"/>
<text x="1540.1" y="658" class="tk" text-anchor="middle">−0.2</text>
<line x1="1699.5" y1="632.4" x2="1699.5" y2="639.0" stroke="#333333" stroke-width="2.4"/>
<text x="1699.5" y="658" class="tk" text-anchor="middle">0.0</text>
<line x1="1858.5" y1="632.4" x2="1858.5" y2="639.0" stroke="#333333" stroke-width="2.4"/>
<text x="1858.5" y="658" class="tk" text-anchor="middle">0.2</text>
<text x="1697.9" y="685.0" class="at" text-anchor="middle">MR beta in Chinese</text>
<text transform="translate(1375.1,344.55) rotate(-90)" x="0" y="0" class="at" style="font-size:23.75px" text-anchor="middle">MR beta in Finnish</text>
<text x="1459.4" y="90" class="rt" textLength="237.00" lengthAdjust="spacing"><tspan font-style="italic">R</tspan> = −0.038, <tspan font-style="italic">p</tspan> = 0.62</text>
<text x="1668" y="115" class="lbi">g_Shewanella</text>
<text x="1656.25" y="185" class="lbi">g_Pyramidobacter</text>
<text x="1642" y="251.25" class="lb">c_Spirochaetia</text>
<text x="1535.5" y="288.25" class="lbi">g_Photorhabdus</text>
<text x="1686.25" y="305.5" class="lbi">s_Bacteroides_ovatus</text>
<text x="1570" y="346.25" class="lbi">g_Klebsiella</text>
<text x="1449" y="440.3" class="lbi">g_Coprococcus</text>
<text x="1509.6" y="458.1" class="lbi">g_Streptococcus</text>
<text x="1706.4" y="468.3" class="lbi">s_Escherichia_coli</text>
<text x="1540.8" y="488.9" class="lbi">g_Coprobacillus</text>
<text x="1719.6" y="498.2" class="lbi">g_Sutterella</text>
<text x="1790.9" y="516.2" class="lbi">g_Pseudoflavonifractor</text>
<text x="1449.6" y="529.1" class="lbi">s_Porphyromonas_gingivalis</text>
<line x1="1691.75" y1="310" x2="1695" y2="330.75" stroke="#000" stroke-width="2"/>
<line x1="1710.4" y1="443.4" x2="1713" y2="457.5" stroke="#000" stroke-width="2"/>
</g>
<g id="panel-d">
<circle cx="289.25" cy="826.75" r="3.1" fill="#000000"/>
<circle cx="359.5" cy="819.5" r="3.1" fill="#000000"/>
<circle cx="367.5" cy="833.75" r="3.1" fill="#000000"/>
<circle cx="331" cy="845.25" r="3.1" fill="#000000"/>
<circle cx="349" cy="847" r="3.1" fill="#000000"/>
<circle cx="359.5" cy="844" r="3.1" fill="#000000"/>
<circle cx="297.25" cy="865" r="3.1" fill="#000000"/>
<circle cx="296.25" cy="869.25" r="3.1" fill="#000000"/>
<circle cx="295" cy="877" r="3.1" fill="#000000"/>
<circle cx="294.5" cy="880.5" r="3.1" fill="#000000"/>
<circle cx="319.5" cy="873" r="3.1" fill="#000000"/>
<circle cx="337.5" cy="869.25" r="3.1" fill="#000000"/>
<circle cx="341.25" cy="873.75" r="3.1" fill="#000000"/>
<circle cx="337.5" cy="877" r="3.1" fill="#000000"/>
<circle cx="350" cy="873.75" r="3.1" fill="#000000"/>
<circle cx="287" cy="927.75" r="3.1" fill="#000000"/>
<circle cx="299.75" cy="923" r="3.1" fill="#000000"/>
<circle cx="328.5" cy="924.5" r="3.1" fill="#000000"/>
<circle cx="374.5" cy="930.75" r="3.1" fill="#000000"/>
<circle cx="364.5" cy="936.25" r="3.1" fill="#000000"/>
<circle cx="297" cy="936.25" r="3.1" fill="#000000"/>
<circle cx="295" cy="943.75" r="3.1" fill="#000000"/>
<circle cx="329" cy="961.5" r="3.1" fill="#000000"/>
<circle cx="358.25" cy="973.75" r="3.1" fill="#000000"/>
<circle cx="328.5" cy="981.25" r="3.1" fill="#000000"/>
<circle cx="279" cy="991" r="3.1" fill="#000000"/>
<circle cx="338.75" cy="987.5" r="3.1" fill="#000000"/>
<circle cx="341.25" cy="993.75" r="3.1" fill="#000000"/>
<circle cx="343.75" cy="995" r="3.1" fill="#000000"/>
<circle cx="344.5" cy="999.5" r="3.1" fill="#000000"/>
<circle cx="355" cy="995.75" r="3.1" fill="#000000"/>
<circle cx="254.5" cy="1003.75" r="3.1" fill="#000000"/>
<circle cx="263.5" cy="1005.25" r="3.1" fill="#000000"/>
<circle cx="265.5" cy="1011.75" r="3.1" fill="#000000"/>
<circle cx="280" cy="1000" r="3.1" fill="#000000"/>
<circle cx="406.5" cy="1001.25" r="3.1" fill="#000000"/>
<circle cx="481.25" cy="982" r="3.1" fill="#000000"/>
<circle cx="477.75" cy="1010.75" r="3.1" fill="#000000"/>
<circle cx="333.75" cy="1011.75" r="3.1" fill="#000000"/>
<circle cx="297" cy="1014.5" r="3.1" fill="#000000"/>
<circle cx="288.5" cy="1017.5" r="3.1" fill="#000000"/>
<circle cx="288.75" cy="1023.25" r="3.1" fill="#000000"/>
<circle cx="290" cy="1028.25" r="3.1" fill="#000000"/>
<circle cx="292" cy="1029.25" r="3.1" fill="#000000"/>
<circle cx="312.25" cy="1027.5" r="3.1" fill="#000000"/>
<circle cx="335.25" cy="1026.75" r="3.1" fill="#000000"/>
<circle cx="342" cy="1025" r="3.1" fill="#000000"/>
<circle cx="297.5" cy="1051.25" r="3.1" fill="#000000"/>
<circle cx="250.25" cy="1056.25" r="3.1" fill="#000000"/>
<circle cx="321.5" cy="1069" r="3.1" fill="#000000"/>
<circle cx="321.5" cy="1074" r="3.1" fill="#000000"/>
<circle cx="251.75" cy="1080.25" r="3.1" fill="#000000"/>
<circle cx="259" cy="1082" r="3.1" fill="#000000"/>
<circle cx="338" cy="1080.5" r="3.1" fill="#000000"/>
<circle cx="292.5" cy="1086" r="3.1" fill="#000000"/>
<circle cx="296.5" cy="1085" r="3.1" fill="#000000"/>
<circle cx="302" cy="1102.5" r="3.1" fill="#000000"/>
<circle cx="303" cy="1104.5" r="3.1" fill="#000000"/>
<circle cx="306.75" cy="1105.75" r="3.1" fill="#000000"/>
<circle cx="344.75" cy="1119.5" r="3.1" fill="#000000"/>
<circle cx="355.5" cy="1129.25" r="3.1" fill="#000000"/>
<circle cx="377" cy="1132" r="3.1" fill="#000000"/>
<circle cx="334.5" cy="1157.5" r="3.1" fill="#000000"/>
<circle cx="245.25" cy="1207" r="3.1" fill="#000000"/>
<circle cx="289.5" cy="1221" r="3.1" fill="#000000"/>
<circle cx="418" cy="896.5" r="3.1" fill="#F8766D"/>
<circle cx="585.5" cy="905.6" r="3.1" fill="#F8766D"/>
<circle cx="242" cy="915.25" r="3.1" fill="#F8766D"/>
<circle cx="157" cy="927" r="3.1" fill="#F8766D"/>
<circle cx="223.75" cy="934.5" r="3.1" fill="#F8766D"/>
<circle cx="258.5" cy="1072" r="3.1" fill="#F8766D"/>
<circle cx="263.5" cy="1115.5" r="3.1" fill="#5E71D1"/>
<circle cx="229.25" cy="1129.25" r="3.1" fill="#5E71D1"/>
<circle cx="382" cy="1141.25" r="3.1" fill="#5E71D1"/>
<circle cx="302" cy="1143" r="3.1" fill="#5E71D1"/>
<circle cx="369.75" cy="1148.75" r="3.1" fill="#5E71D1"/>
<circle cx="320" cy="1214" r="3.1" fill="#5E71D1"/>
<circle cx="356.25" cy="1248" r="3.1" fill="#5E71D1"/>
<path d="M157.20,971.30 L161.48,971.76 L165.76,972.24 L170.05,972.73 L174.33,973.22 L178.61,973.72 L182.89,974.22 L187.17,974.73 L191.46,975.24 L195.74,975.76 L200.02,976.28 L204.30,976.80 L208.58,977.32 L212.87,977.84 L217.15,978.36 L221.43,978.87 L225.71,979.38 L229.99,979.88 L234.28,980.37 L238.56,980.85 L242.84,981.31 L247.12,981.76 L251.40,982.19 L255.69,982.59 L259.97,982.97 L264.25,983.32 L268.53,983.63 L272.81,983.91 L277.10,984.14 L281.38,984.33 L285.66,984.46 L289.94,984.53 L294.22,984.53 L298.51,984.47 L302.79,984.33 L307.07,984.11 L311.35,983.80 L315.63,983.40 L319.92,982.90 L324.20,982.31 L328.48,981.62 L332.76,980.82 L337.04,979.93 L341.33,978.94 L345.61,977.85 L349.89,976.66 L354.17,975.39 L358.45,974.04 L362.74,972.60 L367.02,971.09 L371.30,969.52 L375.58,967.88 L379.86,966.19 L384.15,964.44 L388.43,962.65 L392.71,960.82 L396.99,958.95 L401.27,957.05 L405.56,955.12 L409.84,953.17 L414.12,951.19 L418.40,949.20 L422.68,947.19 L426.97,945.17 L431.25,943.14 L435.53,941.10 L439.81,939.05 L444.09,937.00 L448.38,934.95 L452.66,932.89 L456.94,930.83 L461.22,928.78 L465.50,926.72 L469.79,924.67 L474.07,922.63 L478.35,920.58 L482.63,918.55 L486.91,916.51 L491.20,914.49 L495.48,912.47 L499.76,910.46 L504.04,908.46 L508.32,906.47 L512.61,904.49 L516.89,902.52 L521.17,900.55 L525.45,898.60 L529.73,896.66 L534.02,894.73 L538.30,892.81 L542.58,890.90 L546.86,889.01 L551.14,887.12 L555.43,885.25 L559.71,883.39 L563.99,881.55 L568.27,879.71 L572.55,877.89 L576.84,876.09 L581.12,874.29 L585.40,872.51 L585.40,1052.69 L581.12,1052.05 L576.84,1051.41 L572.55,1050.76 L568.27,1050.11 L563.99,1049.45 L559.71,1048.79 L555.43,1048.12 L551.14,1047.45 L546.86,1046.77 L542.58,1046.10 L538.30,1045.42 L534.02,1044.73 L529.73,1044.05 L525.45,1043.36 L521.17,1042.67 L516.89,1041.98 L512.61,1041.28 L508.32,1040.59 L504.04,1039.90 L499.76,1039.20 L495.48,1038.51 L491.20,1037.82 L486.91,1037.13 L482.63,1036.45 L478.35,1035.77 L474.07,1035.09 L469.79,1034.42 L465.50,1033.75 L461.22,1033.09 L456.94,1032.44 L452.66,1031.80 L448.38,1031.16 L444.09,1030.54 L439.81,1029.93 L435.53,1029.34 L431.25,1028.76 L426.97,1028.19 L422.68,1027.65 L418.40,1027.12 L414.12,1026.62 L409.84,1026.14 L405.56,1025.69 L401.27,1025.26 L396.99,1024.87 L392.71,1024.51 L388.43,1024.19 L384.15,1023.90 L379.86,1023.66 L375.58,1023.46 L371.30,1023.30 L367.02,1023.20 L362.74,1023.15 L358.45,1023.16 L354.17,1023.22 L349.89,1023.35 L345.61,1023.54 L341.33,1023.80 L337.04,1024.13 L332.76,1024.53 L328.48,1025.00 L324.20,1025.55 L319.92,1026.17 L315.63,1026.87 L311.35,1027.65 L307.07,1028.50 L302.79,1029.43 L298.51,1030.43 L294.22,1031.51 L289.94,1032.66 L285.66,1033.88 L281.38,1035.16 L277.10,1036.51 L272.81,1037.92 L268.53,1039.39 L264.25,1040.91 L259.97,1042.49 L255.69,1044.12 L251.40,1045.79 L247.12,1047.51 L242.84,1049.27 L238.56,1051.06 L234.28,1052.90 L229.99,1054.76 L225.71,1056.66 L221.43,1058.58 L217.15,1060.53 L212.87,1062.51 L208.58,1064.51 L204.30,1066.52 L200.02,1068.56 L195.74,1070.61 L191.46,1072.67 L187.17,1074.75 L182.89,1076.85 L178.61,1078.95 L174.33,1081.06 L170.05,1083.18 L165.76,1085.31 L161.48,1087.45 L157.20,1089.59 Z" fill="#999999" fill-opacity="0.4"/>
<line x1="157.2" y1="1030.3" x2="585.4" y2="962.3" stroke="#000" stroke-width="2"/>
<line x1="90.5" y1="753.75" x2="90.5" y2="1317.4" stroke="#000" stroke-width="2.8"/>
<line x1="90.5" y1="1317.4" x2="646.7" y2="1317.4" stroke="#000" stroke-width="2.8"/>
<line x1="83.9" y1="836.1" x2="90.5" y2="836.1" stroke="#333333" stroke-width="2.4"/>
<text x="78.2" y="843.1" class="tk" text-anchor="end">0.02</text>
<line x1="83.9" y1="950" x2="90.5" y2="950" stroke="#333333" stroke-width="2.4"/>
<text x="78.2" y="957.0" class="tk" text-anchor="end">0.00</text>
<line x1="83.9" y1="1063.4" x2="90.5" y2="1063.4" stroke="#333333" stroke-width="2.4"/>
<text x="78.2" y="1070.4" class="tk" text-anchor="end">−0.02</text>
<line x1="83.9" y1="1177.4" x2="90.5" y2="1177.4" stroke="#333333" stroke-width="2.4"/>
<text x="78.2" y="1184.4" class="tk" text-anchor="end">−0.04</text>
<line x1="83.9" y1="1291.3" x2="90.5" y2="1291.3" stroke="#333333" stroke-width="2.4"/>
<text x="78.2" y="1298.3" class="tk" text-anchor="end">−0.06</text>
<line x1="178.75" y1="1317.4" x2="178.75" y2="1324.0" stroke="#333333" stroke-width="2.4"/>
<text x="178.75" y="1342.5" class="tk" text-anchor="middle">−0.1</text>
<line x1="305.5" y1="1317.4" x2="305.5" y2="1324.0" stroke="#333333" stroke-width="2.4"/>
<text x="305.5" y="1342.5" class="tk" text-anchor="middle">0.0</text>
<line x1="432" y1="1317.4" x2="432" y2="1324.0" stroke="#333333" stroke-width="2.4"/>
<text x="432" y="1342.5" class="tk" text-anchor="middle">0.1</text>
<line x1="558.75" y1="1317.4" x2="558.75" y2="1324.0" stroke="#333333" stroke-width="2.4"/>
<text x="558.75" y="1342.5" class="tk" text-anchor="middle">0.2</text>
<text x="372.25" y="1373.25" class="at" text-anchor="middle">MR beta in Chinese</text>
<text transform="translate(21.1,1047.5) rotate(-90)" x="0" y="0" class="at" style="font-size:23.75px" text-anchor="middle">MR beta in MiBioGen (mainly European )</text>
<text x="116.4" y="807.5" class="rt" textLength="190.00" lengthAdjust="spacing"><tspan font-style="italic">R</tspan> = 0.1, <tspan font-style="italic">p</tspan> = 0.35</text>
<text x="98.25" y="907.5" class="lb">c_Alphaproteobacteria</text>
<text x="249.5" y="917.5" class="lbi">g_Bacteroides</text>
<text x="170.5" y="947.5" class="lbi">g_Anaerostipes</text>
<text x="413.6" y="884.8" class="lbi">g_Paraprevotella</text>
<rect x="540.1" y="886.9" width="45.5" height="17.3" fill="#ffffff" fill-opacity="0.35"/>
<text x="546" y="899.8" class="lb">f_Prevotellaceae</text>
<text x="255.5" y="1064.25" class="lbi">g_Blautia</text>
<text x="108" y="1107" class="lb">f_Erysipelotrichaceae</text>
<text x="112.5" y="1135" class="lbi">g_Escherichia</text>
<text x="203.75" y="1157" class="lbi">g_Streptococcus</text>
<text x="391.25" y="1143.75" class="lbi">g_Parasutterella</text>
<text x="370" y="1168" class="lb">f_Peptococcaceae</text>
<text x="328" y="1216.25" class="lb">p_Cyanobacteria</text>
<text x="363.25" y="1251.25" class="lbi">g_Slackia</text>
</g>
<g id="panel-e">
<circle cx="955.75" cy="792.5" r="3.1" fill="#000000"/>
<circle cx="960.25" cy="818.75" r="3.1" fill="#000000"/>
<circle cx="901.75" cy="857" r="3.1" fill="#000000"/>
<circle cx="1042" cy="858" r="3.1" fill="#000000"/>
<circle cx="967.25" cy="868" r="3.1" fill="#000000"/>
<circle cx="846.75" cy="885.25" r="3.1" fill="#000000"/>
<circle cx="887.75" cy="901" r="3.1" fill="#000000"/>
<circle cx="900.5" cy="898" r="3.1" fill="#000000"/>
<circle cx="963.75" cy="902.25" r="3.1" fill="#000000"/>
<circle cx="869" cy="909.5" r="3.1" fill="#000000"/>
<circle cx="871.75" cy="911.75" r="3.1" fill="#000000"/>
<circle cx="997.75" cy="927.25" r="3.1" fill="#000000"/>
<circle cx="907.5" cy="930" r="3.1" fill="#000000"/>
<circle cx="910" cy="933" r="3.1" fill="#000000"/>
<circle cx="901.25" cy="942" r="3.1" fill="#000000"/>
<circle cx="950.75" cy="975" r="3.1" fill="#000000"/>
<circle cx="1006.25" cy="980.5" r="3.1" fill="#000000"/>
<circle cx="907" cy="979.25" r="3.1" fill="#000000"/>
<circle cx="863.25" cy="985" r="3.1" fill="#000000"/>
<circle cx="859" cy="988.75" r="3.1" fill="#000000"/>
<circle cx="963.6" cy="991.9" r="3.1" fill="#000000"/>
<circle cx="853" cy="1009.6" r="3.1" fill="#000000"/>
<circle cx="827.5" cy="1014.25" r="3.1" fill="#000000"/>
<circle cx="939" cy="1011.9" r="3.1" fill="#000000"/>
<circle cx="972.25" cy="1010.6" r="3.1" fill="#000000"/>
<circle cx="980.1" cy="1014" r="3.1" fill="#000000"/>
<circle cx="1127.9" cy="1025" r="3.1" fill="#000000"/>
<circle cx="1131.9" cy="1040.9" r="3.1" fill="#000000"/>
<circle cx="919.5" cy="1023.25" r="3.1" fill="#000000"/>
<circle cx="947.5" cy="1031.9" r="3.1" fill="#000000"/>
<circle cx="965" cy="1030.9" r="3.1" fill="#000000"/>
<circle cx="915.5" cy="1034.75" r="3.1" fill="#000000"/>
<circle cx="939" cy="1038.25" r="3.1" fill="#000000"/>
<circle cx="936.5" cy="1045" r="3.1" fill="#000000"/>
<circle cx="941.25" cy="1043.25" r="3.1" fill="#000000"/>
<circle cx="869.1" cy="1044.5" r="3.1" fill="#000000"/>
<circle cx="909" cy="1043" r="3.1" fill="#000000"/>
<circle cx="916" cy="1044.5" r="3.1" fill="#000000"/>
<circle cx="948.1" cy="1050.9" r="3.1" fill="#000000"/>
<circle cx="985.4" cy="1045" r="3.1" fill="#000000"/>
<circle cx="910.1" cy="1066.6" r="3.1" fill="#000000"/>
<circle cx="905.6" cy="1079.75" r="3.1" fill="#000000"/>
<circle cx="912.75" cy="1078.9" r="3.1" fill="#000000"/>
<circle cx="966.6" cy="1090.4" r="3.1" fill="#000000"/>
<circle cx="958.75" cy="1103.75" r="3.1" fill="#000000"/>
<circle cx="928.25" cy="1121.5" r="3.1" fill="#000000"/>
<circle cx="906.25" cy="1186.25" r="3.1" fill="#000000"/>
<circle cx="910" cy="1187.5" r="3.1" fill="#000000"/>
<circle cx="959.25" cy="1188.75" r="3.1" fill="#000000"/>
<circle cx="864" cy="932.5" r="3.1" fill="#F8766D"/>
<circle cx="844.5" cy="948.75" r="3.1" fill="#F8766D"/>
<circle cx="864" cy="948.75" r="3.1" fill="#F8766D"/>
<circle cx="862.6" cy="999.5" r="3.1" fill="#F8766D"/>
<circle cx="1278" cy="1046.5" r="3.1" fill="#F8766D"/>
<circle cx="1055.6" cy="1078.6" r="3.1" fill="#F8766D"/>
<circle cx="994.5" cy="812.5" r="3.1" fill="#C77CFF"/>
<circle cx="1012" cy="1215" r="3.1" fill="#C77CFF"/>
<line x1="827.5" y1="981.75" x2="1278.25" y2="1050.75" stroke="#000" stroke-width="2"/>
<path d="M827.50,944.25 L832.01,946.34 L836.51,948.37 L841.02,950.33 L845.53,952.22 L850.04,954.04 L854.54,955.80 L859.05,957.49 L863.56,959.12 L868.07,960.68 L872.58,962.19 L877.08,963.63 L881.59,965.01 L886.10,966.33 L890.61,967.59 L895.11,968.80 L899.62,969.95 L904.13,971.04 L908.63,972.08 L913.14,973.06 L917.65,973.99 L922.16,974.87 L926.66,975.70 L931.17,976.48 L935.68,977.21 L940.19,977.89 L944.70,978.53 L949.20,979.12 L953.71,979.66 L958.22,980.17 L962.73,980.63 L967.23,981.05 L971.74,981.43 L976.25,981.77 L980.75,982.07 L985.26,982.34 L989.77,982.57 L994.28,982.77 L998.79,982.93 L1003.29,983.07 L1007.80,983.16 L1012.31,983.23 L1016.82,983.27 L1021.32,983.29 L1025.83,983.27 L1030.34,983.23 L1034.85,983.16 L1039.35,983.07 L1043.86,982.96 L1048.37,982.82 L1052.88,982.66 L1057.38,982.48 L1061.89,982.28 L1066.40,982.06 L1070.90,981.83 L1075.41,981.58 L1079.92,981.31 L1084.43,981.03 L1088.93,980.73 L1093.44,980.42 L1097.95,980.10 L1102.46,979.76 L1106.97,979.41 L1111.47,979.06 L1115.98,978.69 L1120.49,978.32 L1124.99,977.94 L1129.50,977.55 L1134.01,977.15 L1138.52,976.75 L1143.03,976.35 L1147.53,975.94 L1152.04,975.53 L1156.55,975.11 L1161.06,974.69 L1165.56,974.27 L1170.07,973.85 L1174.58,973.43 L1179.09,973.01 L1183.59,972.59 L1188.10,972.17 L1192.61,971.76 L1197.12,971.35 L1201.62,970.94 L1206.13,970.53 L1210.64,970.13 L1215.14,969.74 L1219.65,969.35 L1224.16,968.96 L1228.67,968.58 L1233.17,968.21 L1237.68,967.85 L1242.19,967.50 L1246.70,967.15 L1251.20,966.81 L1255.71,966.48 L1260.22,966.17 L1264.73,965.86 L1269.24,965.56 L1273.74,965.27 L1278.25,965.00 L1278.25,1136.25 L1273.74,1134.13 L1269.24,1132.01 L1264.73,1129.90 L1260.22,1127.79 L1255.71,1125.70 L1251.20,1123.61 L1246.70,1121.53 L1242.19,1119.46 L1237.68,1117.40 L1233.17,1115.34 L1228.67,1113.30 L1224.16,1111.26 L1219.65,1109.24 L1215.14,1107.23 L1210.64,1105.22 L1206.13,1103.23 L1201.62,1101.25 L1197.12,1099.28 L1192.61,1097.33 L1188.10,1095.38 L1183.59,1093.45 L1179.09,1091.53 L1174.58,1089.63 L1170.07,1087.74 L1165.56,1085.87 L1161.06,1084.01 L1156.55,1082.16 L1152.04,1080.34 L1147.53,1078.52 L1143.03,1076.73 L1138.52,1074.95 L1134.01,1073.19 L1129.50,1071.45 L1124.99,1069.73 L1120.49,1068.03 L1115.98,1066.35 L1111.47,1064.68 L1106.97,1063.04 L1102.46,1061.42 L1097.95,1059.82 L1093.44,1058.25 L1088.93,1056.69 L1084.43,1055.16 L1079.92,1053.66 L1075.41,1052.18 L1070.90,1050.72 L1066.40,1049.29 L1061.89,1047.88 L1057.38,1046.51 L1052.88,1045.15 L1048.37,1043.83 L1043.86,1042.54 L1039.35,1041.27 L1034.85,1040.03 L1030.34,1038.82 L1025.83,1037.64 L1021.32,1036.50 L1016.82,1035.38 L1012.31,1034.29 L1007.80,1033.24 L1003.29,1032.22 L998.79,1031.23 L994.28,1030.27 L989.77,1029.35 L985.26,1028.46 L980.75,1027.61 L976.25,1026.79 L971.74,1026.01 L967.23,1025.26 L962.73,1024.54 L958.22,1023.87 L953.71,1023.22 L949.20,1022.62 L944.70,1022.05 L940.19,1021.51 L935.68,1021.02 L931.17,1020.56 L926.66,1020.14 L922.16,1019.75 L917.65,1019.40 L913.14,1019.09 L908.63,1018.81 L904.13,1018.57 L899.62,1018.37 L895.11,1018.21 L890.61,1018.08 L886.10,1017.99 L881.59,1017.93 L877.08,1017.91 L872.58,1017.93 L868.07,1017.98 L863.56,1018.07 L859.05,1018.19 L854.54,1018.35 L850.04,1018.54 L845.53,1018.76 L841.02,1019.02 L836.51,1019.32 L832.01,1019.64 L827.50,1020.00 Z" fill="#999999" fill-opacity="0.4"/>
<line x1="780.6" y1="753.75" x2="780.6" y2="1317.4" stroke="#000" stroke-width="2.8"/>
<line x1="780.6" y1="1317.4" x2="1328" y2="1317.4" stroke="#000" stroke-width="2.8"/>
<line x1="774.0" y1="779.25" x2="780.6" y2="779.25" stroke="#333333" stroke-width="2.4"/>
<text x="768.3000000000001" y="786.25" class="tk" text-anchor="end">0.050</text>
<line x1="774.0" y1="881.85" x2="780.6" y2="881.85" stroke="#333333" stroke-width="2.4"/>
<text x="768.3000000000001" y="888.85" class="tk" text-anchor="end">0.025</text>
<line x1="774.0" y1="984.45" x2="780.6" y2="984.45" stroke="#333333" stroke-width="2.4"/>
<text x="768.3000000000001" y="991.45" class="tk" text-anchor="end">0.000</text>
<line x1="774.0" y1="1087.05" x2="780.6" y2="1087.05" stroke="#333333" stroke-width="2.4"/>
<text x="768.3000000000001" y="1094.05" class="tk" text-anchor="end">−0.025</text>
<line x1="774.0" y1="1189.65" x2="780.6" y2="1189.65" stroke="#333333" stroke-width="2.4"/>
<text x="768.3000000000001" y="1196.65" class="tk" text-anchor="end">−0.050</text>
<line x1="774.0" y1="1292.25" x2="780.6" y2="1292.25" stroke="#333333" stroke-width="2.4"/>
<text x="768.3000000000001" y="1299.25" class="tk" text-anchor="end">−0.075</text>
<line x1="920.6" y1="1317.4" x2="920.6" y2="1324.0" stroke="#333333" stroke-width="2.4"/>
<text x="920.6" y="1341" class="tk" text-anchor="middle">0.0</text>
<line x1="1073.3" y1="1317.4" x2="1073.3" y2="1324.0" stroke="#333333" stroke-width="2.4"/>
<text x="1073.3" y="1341" class="tk" text-anchor="middle">0.1</text>
<line x1="1226.1" y1="1317.4" x2="1226.1" y2="1324.0" stroke="#333333" stroke-width="2.4"/>
<text x="1226.1" y="1341" class="tk" text-anchor="middle">0.2</text>
<text x="1038" y="1364.4" class="at" text-anchor="middle">MR beta in Chinese</text>
<text transform="translate(706.2,1036.05) rotate(-90)" x="0" y="0" class="at" style="font-size:23.75px" text-anchor="middle">MR beta in Dutch</text>
<text x="807.4" y="773" class="rt" textLength="223.00" lengthAdjust="spacing"><tspan font-style="italic">R</tspan> = −0.15, <tspan font-style="italic">p</tspan> = 0.23</text>
<text x="1004.5" y="814.25" class="lbi">g_Oscillibacter</text>
<text x="803.25" y="927.5" class="lbi">g_Clostridium</text>
<text x="871.75" y="959.5" class="lb">f_Clostridiaceae</text>
<text x="790.75" y="974.5" class="lbi">g_Ruminococcus</text>
<text x="861.25" y="1014.25" class="lbi">g_Blautia</text>
<text x="1235" y="1038.75" class="lbi">g_Prevotella</text>
<text x="1003.75" y="1094.25" class="lbi">g_Paraprevotella</text>
<text x="1022" y="1216.75" class="lbi">g_Parasutterella</text>
<line x1="844.5" y1="952.5" x2="846.75" y2="962" stroke="#000" stroke-width="2"/>
</g>
<g id="panel-f">
<circle cx="1692.25" cy="798.75" r="3.1" fill="#000000"/>
<circle cx="1726.4" cy="842.6" r="3.1" fill="#000000"/>
<circle cx="1691.5" cy="868.1" r="3.1" fill="#000000"/>
<circle cx="1671.3" cy="879.2" r="3.1" fill="#000000"/>
<circle cx="1705" cy="880.7" r="3.1" fill="#000000"/>
<circle cx="1623.1" cy="896.2" r="3.1" fill="#000000"/>
<circle cx="1710.7" cy="893.8" r="3.1" fill="#000000"/>
<circle cx="1693.8" cy="912.2" r="3.1" fill="#000000"/>
<circle cx="1615.4" cy="922.7" r="3.1" fill="#000000"/>
<circle cx="1666.6" cy="925.3" r="3.1" fill="#000000"/>
<circle cx="1723.8" cy="925.2" r="3.1" fill="#000000"/>
<circle cx="1733.9" cy="928.9" r="3.1" fill="#000000"/>
<circle cx="1652.3" cy="932.8" r="3.1" fill="#000000"/>
<circle cx="1661.6" cy="933.8" r="3.1" fill="#000000"/>
<circle cx="1685.5" cy="934.3" r="3.1" fill="#000000"/>
<circle cx="1648" cy="939.1" r="3.1" fill="#000000"/>
<circle cx="1656.7" cy="942.6" r="3.1" fill="#000000"/>
<circle cx="1654.1" cy="948" r="3.1" fill="#000000"/>
<circle cx="1663.8" cy="946.4" r="3.1" fill="#000000"/>
<circle cx="1676.5" cy="947.6" r="3.1" fill="#000000"/>
<circle cx="1682.9" cy="951.4" r="3.1" fill="#000000"/>
<circle cx="1715.4" cy="948.8" r="3.1" fill="#000000"/>
<circle cx="1740.4" cy="951.3" r="3.1" fill="#000000"/>
<circle cx="1657.9" cy="955.9" r="3.1" fill="#000000"/>
<circle cx="1660.5" cy="957.8" r="3.1" fill="#000000"/>
<circle cx="1666.3" cy="955.5" r="3.1" fill="#000000"/>
<circle cx="1682.9" cy="951.8" r="3.1" fill="#000000"/>
<circle cx="1693.2" cy="956.8" r="3.1" fill="#000000"/>
<circle cx="1698.3" cy="960.4" r="3.1" fill="#000000"/>
<circle cx="1710.5" cy="959.6" r="3.1" fill="#000000"/>
<circle cx="1675.8" cy="964.8" r="3.1" fill="#000000"/>
<circle cx="1680.4" cy="966.9" r="3.1" fill="#000000"/>
<circle cx="1684.5" cy="970" r="3.1" fill="#000000"/>
<circle cx="1636.1" cy="972.5" r="3.1" fill="#000000"/>
<circle cx="1652.4" cy="972.2" r="3.1" fill="#000000"/>
<circle cx="1655.4" cy="972.2" r="3.1" fill="#000000"/>
<circle cx="1673.6" cy="972.1" r="3.1" fill="#000000"/>
<circle cx="1711.8" cy="974.1" r="3.1" fill="#000000"/>
<circle cx="1713.3" cy="979.8" r="3.1" fill="#000000"/>
<circle cx="1726.3" cy="977.9" r="3.1" fill="#000000"/>
<circle cx="1599.8" cy="981.5" r="3.1" fill="#000000"/>
<circle cx="1625.1" cy="982.2" r="3.1" fill="#000000"/>
<circle cx="1653.9" cy="980" r="3.1" fill="#000000"/>
<circle cx="1652.9" cy="981.8" r="3.1" fill="#000000"/>
<circle cx="1665.9" cy="980" r="3.1" fill="#000000"/>
<circle cx="1663.9" cy="982.5" r="3.1" fill="#000000"/>
<circle cx="1661.9" cy="984.9" r="3.1" fill="#000000"/>
<circle cx="1660.4" cy="986.9" r="3.1" fill="#000000"/>
<circle cx="1686.7" cy="981.8" r="3.1" fill="#000000"/>
<circle cx="1684.9" cy="984.9" r="3.1" fill="#000000"/>
<circle cx="1682.9" cy="987.4" r="3.1" fill="#000000"/>
<circle cx="1699.3" cy="984.4" r="3.1" fill="#000000"/>
<circle cx="1620" cy="989.4" r="3.1" fill="#000000"/>
<circle cx="1643.9" cy="991.9" r="3.1" fill="#000000"/>
<circle cx="1640.9" cy="994.4" r="3.1" fill="#000000"/>
<circle cx="1637.9" cy="996.9" r="3.1" fill="#000000"/>
<circle cx="1635.4" cy="999.4" r="3.1" fill="#000000"/>
<circle cx="1630.4" cy="1000.4" r="3.1" fill="#000000"/>
<circle cx="1634.9" cy="1001.9" r="3.1" fill="#000000"/>
<circle cx="1654.9" cy="991.9" r="3.1" fill="#000000"/>
<circle cx="1659.9" cy="994.4" r="3.1" fill="#000000"/>
<circle cx="1663.9" cy="993.9" r="3.1" fill="#000000"/>
<circle cx="1661.9" cy="996.4" r="3.1" fill="#000000"/>
<circle cx="1657.9" cy="998.4" r="3.1" fill="#000000"/>
<circle cx="1675.9" cy="988.4" r="3.1" fill="#000000"/>
<circle cx="1678.4" cy="990.4" r="3.1" fill="#000000"/>
<circle cx="1680.9" cy="989.4" r="3.1" fill="#000000"/>
<circle cx="1686.4" cy="990" r="3.1" fill="#000000"/>
<circle cx="1683.4" cy="998.9" r="3.1" fill="#000000"/>
<circle cx="1676.9" cy="999.4" r="3.1" fill="#000000"/>
<circle cx="1702.3" cy="990.9" r="3.1" fill="#000000"/>
<circle cx="1703.8" cy="993.9" r="3.1" fill="#000000"/>
<circle cx="1702.3" cy="996.9" r="3.1" fill="#000000"/>
<circle cx="1708.8" cy="991.4" r="3.1" fill="#000000"/>
<circle cx="1712.8" cy="993.9" r="3.1" fill="#000000"/>
<circle cx="1716.8" cy="994.4" r="3.1" fill="#000000"/>
<circle cx="1711.8" cy="999.4" r="3.1" fill="#000000"/>
<circle cx="1717.3" cy="999.9" r="3.1" fill="#000000"/>
<circle cx="1731" cy="991.9" r="3.1" fill="#000000"/>
<circle cx="1741.6" cy="991.9" r="3.1" fill="#000000"/>
<circle cx="1597" cy="1002.7" r="3.1" fill="#000000"/>
<circle cx="1613.8" cy="1002.9" r="3.1" fill="#000000"/>
<circle cx="1628.2" cy="1006.4" r="3.1" fill="#000000"/>
<circle cx="1654.1" cy="1005.1" r="3.1" fill="#000000"/>
<circle cx="1662.1" cy="1005.4" r="3.1" fill="#000000"/>
<circle cx="1663.9" cy="1009.9" r="3.1" fill="#000000"/>
<circle cx="1663.4" cy="1012.9" r="3.1" fill="#000000"/>
<circle cx="1669.9" cy="1006.4" r="3.1" fill="#000000"/>
<circle cx="1673.4" cy="1009.7" r="3.1" fill="#000000"/>
<circle cx="1676.9" cy="1001.9" r="3.1" fill="#000000"/>
<circle cx="1678.9" cy="1004.4" r="3.1" fill="#000000"/>
<circle cx="1676.9" cy="1005.9" r="3.1" fill="#000000"/>
<circle cx="1682.9" cy="1010.7" r="3.1" fill="#000000"/>
<circle cx="1691.5" cy="1009.7" r="3.1" fill="#000000"/>
<circle cx="1704.8" cy="1009.7" r="3.1" fill="#000000"/>
<circle cx="1706.1" cy="1010.4" r="3.1" fill="#000000"/>
<circle cx="1721.1" cy="1006.9" r="3.1" fill="#000000"/>
<circle cx="1725.6" cy="1013.4" r="3.1" fill="#000000"/>
<circle cx="1659.6" cy="1021.4" r="3.1" fill="#000000"/>
<circle cx="1667.4" cy="1020.2" r="3.1" fill="#000000"/>
<circle cx="1684.4" cy="1018.9" r="3.1" fill="#000000"/>
<circle cx="1683.4" cy="1021.1" r="3.1" fill="#000000"/>
<circle cx="1703.8" cy="1020.4" r="3.1" fill="#000000"/>
<circle cx="1772.9" cy="1021.2" r="3.1" fill="#000000"/>
<circle cx="1592" cy="1030.7" r="3.1" fill="#000000"/>
<circle cx="1630.1" cy="1026.9" r="3.1" fill="#000000"/>
<circle cx="1664.5" cy="1028.7" r="3.1" fill="#000000"/>
<circle cx="1678.9" cy="1029.1" r="3.1" fill="#000000"/>
<circle cx="1758.2" cy="1027.9" r="3.1" fill="#000000"/>
<circle cx="1642.1" cy="1035.9" r="3.1" fill="#000000"/>
<circle cx="1654.9" cy="1035.9" r="3.1" fill="#000000"/>
<circle cx="1658.1" cy="1038.1" r="3.1" fill="#000000"/>
<circle cx="1690.3" cy="1039.1" r="3.1" fill="#000000"/>
<circle cx="1738.5" cy="1035.4" r="3.1" fill="#000000"/>
<circle cx="1611.8" cy="1041.7" r="3.1" fill="#000000"/>
<circle cx="1684.1" cy="1044.7" r="3.1" fill="#000000"/>
<circle cx="1720.6" cy="1045.1" r="3.1" fill="#000000"/>
<circle cx="1675.9" cy="1050.9" r="3.1" fill="#000000"/>
<circle cx="1679.9" cy="1049.4" r="3.1" fill="#000000"/>
<circle cx="1680.9" cy="1054" r="3.1" fill="#000000"/>
<circle cx="1689.6" cy="1048.9" r="3.1" fill="#000000"/>
<circle cx="1713.5" cy="1051.8" r="3.1" fill="#000000"/>
<circle cx="1652.6" cy="1066.4" r="3.1" fill="#000000"/>
<circle cx="1649.6" cy="1075.7" r="3.1" fill="#000000"/>
<circle cx="1680.3" cy="1087.1" r="3.1" fill="#000000"/>
<circle cx="1610.4" cy="1089.3" r="3.1" fill="#000000"/>
<circle cx="1611.8" cy="1110" r="3.1" fill="#000000"/>
<circle cx="1684.9" cy="1105.2" r="3.1" fill="#000000"/>
<circle cx="1645.3" cy="1124" r="3.1" fill="#000000"/>
<circle cx="1619.3" cy="1149.6" r="3.1" fill="#000000"/>
<circle cx="1601" cy="850.6" r="3.1" fill="#F8766D"/>
<circle cx="1597.4" cy="870.3" r="3.1" fill="#F8766D"/>
<circle cx="1621" cy="881.4" r="3.1" fill="#F8766D"/>
<circle cx="1878" cy="867" r="3.1" fill="#F8766D"/>
<circle cx="1750.6" cy="896.1" r="3.1" fill="#F8766D"/>
<circle cx="1760.7" cy="902" r="3.1" fill="#F8766D"/>
<circle cx="1591.6" cy="908.6" r="3.1" fill="#F8766D"/>
<circle cx="1598.7" cy="909" r="3.1" fill="#F8766D"/>
<circle cx="1950" cy="921.5" r="3.1" fill="#F8766D"/>
<circle cx="1615.6" cy="930.7" r="3.1" fill="#F8766D"/>
<circle cx="1762.6" cy="931.8" r="3.1" fill="#F8766D"/>
<circle cx="1621.3" cy="940" r="3.1" fill="#F8766D"/>
<circle cx="1576.75" cy="956" r="3.1" fill="#F8766D"/>
<circle cx="1779.7" cy="954.6" r="3.1" fill="#F8766D"/>
<circle cx="1632.6" cy="962" r="3.1" fill="#F8766D"/>
<circle cx="1802.5" cy="963.75" r="3.1" fill="#F8766D"/>
<circle cx="1758.4" cy="967.2" r="3.1" fill="#F8766D"/>
<circle cx="1766.4" cy="968.8" r="3.1" fill="#F8766D"/>
<circle cx="1560.5" cy="973" r="3.1" fill="#F8766D"/>
<circle cx="1597.4" cy="971.8" r="3.1" fill="#F8766D"/>
<circle cx="1607.8" cy="974" r="3.1" fill="#F8766D"/>
<circle cx="1794" cy="981.75" r="3.1" fill="#F8766D"/>
<circle cx="1768.7" cy="993.9" r="3.1" fill="#F8766D"/>
<circle cx="1570.75" cy="995" r="3.1" fill="#F8766D"/>
<circle cx="1557.25" cy="1002.25" r="3.1" fill="#F8766D"/>
<circle cx="1573.25" cy="1003.75" r="3.1" fill="#F8766D"/>
<circle cx="1525.75" cy="1007.5" r="3.1" fill="#F8766D"/>
<circle cx="1527.5" cy="1015.25" r="3.1" fill="#F8766D"/>
<circle cx="1633.3" cy="1007.1" r="3.1" fill="#F8766D"/>
<circle cx="1810.75" cy="1013" r="3.1" fill="#F8766D"/>
<circle cx="1583.25" cy="1039.25" r="3.1" fill="#F8766D"/>
<circle cx="1560" cy="1045.25" r="3.1" fill="#F8766D"/>
<circle cx="1760.7" cy="1050" r="3.1" fill="#F8766D"/>
<circle cx="1621.8" cy="1058.8" r="3.1" fill="#F8766D"/>
<circle cx="1746.5" cy="1081.1" r="3.1" fill="#F8766D"/>
<circle cx="1687.25" cy="836.5" r="3.1" fill="#17BCCE"/>
<circle cx="1658.8" cy="890.3" r="3.1" fill="#17BCCE"/>
<circle cx="1697.1" cy="895.7" r="3.1" fill="#17BCCE"/>
<circle cx="1700.3" cy="904.1" r="3.1" fill="#17BCCE"/>
<circle cx="1658.8" cy="917.1" r="3.1" fill="#17BCCE"/>
<circle cx="1603.8" cy="1050.8" r="3.1" fill="#17BCCE"/>
<circle cx="1789.1" cy="1155.7" r="3.1" fill="#17BCCE"/>
<circle cx="1789.1" cy="1201.6" r="3.1" fill="#17BCCE"/>
<circle cx="1764" cy="1284.1" r="3.1" fill="#17BCCE"/>
<circle cx="1789.1" cy="1287.1" r="3.1" fill="#17BCCE"/>
<path d="M1526.10,958.60 L1530.34,959.33 L1534.59,960.06 L1538.83,960.79 L1543.07,961.52 L1547.31,962.25 L1551.56,962.99 L1555.80,963.72 L1560.04,964.45 L1564.29,965.18 L1568.53,965.91 L1572.77,966.64 L1577.02,967.37 L1581.26,968.09 L1585.50,968.81 L1589.74,969.53 L1593.99,970.24 L1598.23,970.95 L1602.47,971.65 L1606.72,972.34 L1610.96,973.02 L1615.20,973.70 L1619.45,974.35 L1623.69,974.99 L1627.93,975.62 L1632.17,976.22 L1636.42,976.80 L1640.66,977.34 L1644.90,977.86 L1649.15,978.34 L1653.39,978.78 L1657.63,979.17 L1661.88,979.51 L1666.12,979.80 L1670.36,980.03 L1674.61,980.20 L1678.85,980.31 L1683.09,980.35 L1687.33,980.34 L1691.58,980.26 L1695.82,980.14 L1700.06,979.96 L1704.31,979.74 L1708.55,979.48 L1712.79,979.18 L1717.04,978.85 L1721.28,978.50 L1725.52,978.12 L1729.76,977.72 L1734.01,977.30 L1738.25,976.86 L1742.49,976.42 L1746.74,975.96 L1750.98,975.49 L1755.22,975.02 L1759.47,974.53 L1763.71,974.05 L1767.95,973.55 L1772.19,973.06 L1776.44,972.56 L1780.68,972.06 L1784.92,971.55 L1789.17,971.05 L1793.41,970.54 L1797.65,970.04 L1801.89,969.53 L1806.14,969.02 L1810.38,968.52 L1814.62,968.01 L1818.87,967.51 L1823.11,967.01 L1827.35,966.51 L1831.60,966.01 L1835.84,965.51 L1840.08,965.01 L1844.33,964.52 L1848.57,964.02 L1852.81,963.53 L1857.05,963.05 L1861.30,962.56 L1865.54,962.08 L1869.78,961.60 L1874.03,961.12 L1878.27,960.64 L1882.51,960.17 L1886.76,959.70 L1891.00,959.23 L1895.24,958.77 L1899.48,958.31 L1903.73,957.85 L1907.97,957.39 L1912.21,956.94 L1916.46,956.49 L1920.70,956.04 L1924.94,955.60 L1929.19,955.16 L1933.43,954.72 L1937.67,954.28 L1941.91,953.85 L1946.16,953.43 L1950.40,953.00 L1950.40,1044.29 L1946.16,1043.60 L1941.91,1042.90 L1937.67,1042.20 L1933.43,1041.49 L1929.19,1040.79 L1924.94,1040.07 L1920.70,1039.36 L1916.46,1038.64 L1912.21,1037.92 L1907.97,1037.20 L1903.73,1036.48 L1899.48,1035.75 L1895.24,1035.02 L1891.00,1034.28 L1886.76,1033.55 L1882.51,1032.81 L1878.27,1032.06 L1874.03,1031.32 L1869.78,1030.57 L1865.54,1029.82 L1861.30,1029.07 L1857.05,1028.31 L1852.81,1027.55 L1848.57,1026.79 L1844.33,1026.03 L1840.08,1025.26 L1835.84,1024.49 L1831.60,1023.72 L1827.35,1022.95 L1823.11,1022.18 L1818.87,1021.40 L1814.62,1020.62 L1810.38,1019.84 L1806.14,1019.06 L1801.89,1018.28 L1797.65,1017.50 L1793.41,1016.71 L1789.17,1015.93 L1784.92,1015.14 L1780.68,1014.36 L1776.44,1013.57 L1772.19,1012.79 L1767.95,1012.01 L1763.71,1011.23 L1759.47,1010.45 L1755.22,1009.68 L1750.98,1008.91 L1746.74,1008.15 L1742.49,1007.39 L1738.25,1006.64 L1734.01,1005.91 L1729.76,1005.19 L1725.52,1004.48 L1721.28,1003.79 L1717.04,1003.13 L1712.79,1002.50 L1708.55,1001.90 L1704.31,1001.35 L1700.06,1000.84 L1695.82,1000.39 L1691.58,1000.00 L1687.33,999.69 L1683.09,999.45 L1678.85,999.28 L1674.61,999.19 L1670.36,999.17 L1666.12,999.21 L1661.88,999.32 L1657.63,999.47 L1653.39,999.67 L1649.15,999.91 L1644.90,1000.17 L1640.66,1000.46 L1636.42,1000.77 L1632.17,1001.10 L1627.93,1001.44 L1623.69,1001.80 L1619.45,1002.16 L1615.20,1002.53 L1610.96,1002.91 L1606.72,1003.29 L1602.47,1003.68 L1598.23,1004.07 L1593.99,1004.46 L1589.74,1004.85 L1585.50,1005.25 L1581.26,1005.64 L1577.02,1006.04 L1572.77,1006.43 L1568.53,1006.83 L1564.29,1007.22 L1560.04,1007.61 L1555.80,1008.00 L1551.56,1008.39 L1547.31,1008.78 L1543.07,1009.17 L1538.83,1009.55 L1534.59,1009.94 L1530.34,1010.32 L1526.10,1010.70 Z" fill="#999999" fill-opacity="0.4"/>
<line x1="1526.1" y1="984.9" x2="1950.4" y2="999.0" stroke="#000" stroke-width="2"/>
<line x1="1460.8" y1="755.5" x2="1460.8" y2="1319.3" stroke="#000" stroke-width="2.8"/>
<line x1="1460.8" y1="1319.3" x2="2006" y2="1319.3" stroke="#000" stroke-width="2.8"/>
<line x1="1454.2" y1="781.3" x2="1460.8" y2="781.3" stroke="#333333" stroke-width="2.4"/>
<text x="1448.5" y="788.3" class="tk" text-anchor="end">0.050</text>
<line x1="1454.2" y1="887.95" x2="1460.8" y2="887.95" stroke="#333333" stroke-width="2.4"/>
<text x="1448.5" y="894.95" class="tk" text-anchor="end">0.025</text>
<line x1="1454.2" y1="994.6" x2="1460.8" y2="994.6" stroke="#333333" stroke-width="2.4"/>
<text x="1448.5" y="1001.6" class="tk" text-anchor="end">0.000</text>
<line x1="1454.2" y1="1101.3" x2="1460.8" y2="1101.3" stroke="#333333" stroke-width="2.4"/>
<text x="1448.5" y="1108.3" class="tk" text-anchor="end">−0.025</text>
<line x1="1454.2" y1="1207.6" x2="1460.8" y2="1207.6" stroke="#333333" stroke-width="2.4"/>
<text x="1448.5" y="1214.6" class="tk" text-anchor="end">−0.050</text>
<line x1="1454.2" y1="1314.9" x2="1460.8" y2="1314.9" stroke="#333333" stroke-width="2.4"/>
<text x="1448.5" y="1321.9" class="tk" text-anchor="end">−0.075</text>
<line x1="1486.1" y1="1319.3" x2="1486.1" y2="1325.8999999999999" stroke="#333333" stroke-width="2.4"/>
<text x="1486.1" y="1344.5" class="tk" text-anchor="middle">−0.2</text>
<line x1="1666.4" y1="1319.3" x2="1666.4" y2="1325.8999999999999" stroke="#333333" stroke-width="2.4"/>
<text x="1666.4" y="1344.5" class="tk" text-anchor="middle">0.0</text>
<line x1="1847.1" y1="1319.3" x2="1847.1" y2="1325.8999999999999" stroke="#333333" stroke-width="2.4"/>
<text x="1847.1" y="1344.5" class="tk" text-anchor="middle">0.2</text>
<text x="1725.5" y="1372.6" class="at" text-anchor="middle">MR beta in Chinese</text>
<text transform="translate(1380.1,1035.4) rotate(-90)" x="0" y="0" class="at" style="font-size:23.75px" text-anchor="middle">MR beta in Finnish</text>
<text x="1486.4" y="776.2" class="rt" textLength="223.25" lengthAdjust="spacing"><tspan font-style="italic">R</tspan> = −0.03, <tspan font-style="italic">p</tspan> = 0.69</text>
<text x="1763.75" y="887.75" class="lbi">s_Lactococcus_lactis</text>
<text x="1478.6" y="1076.4" class="lbi">g_Ruminococcus</text>
<rect x="1744.7" y="887.4" width="12.5" height="17.5" fill="none" stroke="#17BCCE" stroke-width="1.8"/>
<rect x="1616.5" y="1049.9" width="12.700000000000045" height="16.899999999999864" fill="none" stroke="#17BCCE" stroke-width="1.8"/>
</g>
<text transform="translate(3.50,49.0) scale(0.97,1)" class="pl">a</text>
<text transform="translate(669.90,48.7) scale(0.97,1)" class="pl">b</text>
<text transform="translate(1381.60,49.0) scale(0.97,1)" class="pl">c</text>
<text transform="translate(3.50,760.9) scale(0.97,1)" class="pl">d</text>
<text transform="translate(661.50,761.0) scale(0.97,1)" class="pl">e</text>
<text transform="translate(1395.50,760.9) scale(0.97,1)" class="pl">f</text>
<text x="1040" y="23.8" class="tt" text-anchor="middle">from microbiome to longevity</text>
<text x="1054" y="722.7" class="tt" text-anchor="middle">from longevity to microbiome</text>
<circle cx="387.0" cy="1395.5" r="3.0" fill="#F8766D"/>
<text x="395.4" y="1403.7" class="lg">significant in Chinese</text>
<circle cx="676.6" cy="1395.5" r="3.0" fill="#5E71D1"/>
<text x="687.7" y="1403.7" class="lg">significant in MiBioGen</text>
<circle cx="967.1" cy="1395.5" r="3.0" fill="#C77CFF"/>
<text x="981.3" y="1403.7" class="lg">significant in Dutch</text>
<circle cx="1232.3" cy="1395.5" r="3.0" fill="#17BCCE"/>
<text x="1244.5" y="1403.7" class="lg">significant in Finnish</text>
<circle cx="1511.0" cy="1395.5" r="3.0" fill="#000000"/>
<text x="1529.0" y="1403.7" class="lg">others</text>
</svg></body></html>
